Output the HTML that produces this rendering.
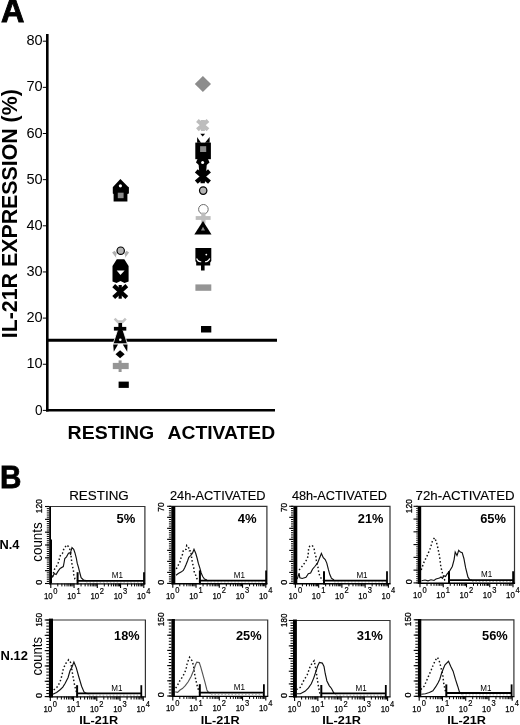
<!DOCTYPE html>
<html><head><meta charset="utf-8"><style>
html,body{margin:0;padding:0;background:#fff;width:520px;height:725px;overflow:hidden}
svg{display:block;will-change:transform}
text{font-family:'Liberation Sans', sans-serif}
</style></head><body>
<svg width="520" height="725" viewBox="0 0 520 725">
<text x="0.9" y="22.3" font-size="32.5" font-weight="bold" text-anchor="start" textLength="23.4" lengthAdjust="spacingAndGlyphs" fill="#000" stroke="#000" stroke-width="0.9">A</text>
<line x1="47.3" y1="34" x2="47.3" y2="411.6" stroke="#000" stroke-width="2.6"/>
<line x1="46" y1="410.3" x2="275" y2="410.3" stroke="#000" stroke-width="2.6"/>
<line x1="42.8" y1="410.40" x2="46.5" y2="410.40" stroke="#000" stroke-width="1"/>
<text x="42.6" y="414.5" font-size="14" text-anchor="end" textLength="7.6" lengthAdjust="spacingAndGlyphs" fill="#000" >0</text>
<line x1="42.8" y1="364.25" x2="46.5" y2="364.25" stroke="#000" stroke-width="1"/>
<text x="42.6" y="368.35" font-size="14" text-anchor="end" textLength="16.2" lengthAdjust="spacingAndGlyphs" fill="#000" >10</text>
<line x1="42.8" y1="318.10" x2="46.5" y2="318.10" stroke="#000" stroke-width="1"/>
<text x="42.6" y="322.2" font-size="14" text-anchor="end" textLength="16.2" lengthAdjust="spacingAndGlyphs" fill="#000" >20</text>
<line x1="42.8" y1="271.95" x2="46.5" y2="271.95" stroke="#000" stroke-width="1"/>
<text x="42.6" y="276.05" font-size="14" text-anchor="end" textLength="16.2" lengthAdjust="spacingAndGlyphs" fill="#000" >30</text>
<line x1="42.8" y1="225.80" x2="46.5" y2="225.80" stroke="#000" stroke-width="1"/>
<text x="42.6" y="229.9" font-size="14" text-anchor="end" textLength="16.2" lengthAdjust="spacingAndGlyphs" fill="#000" >40</text>
<line x1="42.8" y1="179.65" x2="46.5" y2="179.65" stroke="#000" stroke-width="1"/>
<text x="42.6" y="183.75" font-size="14" text-anchor="end" textLength="16.2" lengthAdjust="spacingAndGlyphs" fill="#000" >50</text>
<line x1="42.8" y1="133.50" x2="46.5" y2="133.50" stroke="#000" stroke-width="1"/>
<text x="42.6" y="137.6" font-size="14" text-anchor="end" textLength="16.2" lengthAdjust="spacingAndGlyphs" fill="#000" >60</text>
<line x1="42.8" y1="87.35" x2="46.5" y2="87.35" stroke="#000" stroke-width="1"/>
<text x="42.6" y="91.45" font-size="14" text-anchor="end" textLength="16.2" lengthAdjust="spacingAndGlyphs" fill="#000" >70</text>
<line x1="42.8" y1="41.20" x2="46.5" y2="41.20" stroke="#000" stroke-width="1"/>
<text x="42.6" y="45.3" font-size="14" text-anchor="end" textLength="16.2" lengthAdjust="spacingAndGlyphs" fill="#000" >80</text>
<line x1="46" y1="340.2" x2="277" y2="340.2" stroke="#000" stroke-width="2.9"/>
<text x="67.6" y="438.8" font-size="18.6" font-weight="bold" text-anchor="start" textLength="86.6" lengthAdjust="spacingAndGlyphs" fill="#000" >RESTING</text>
<text x="167.5" y="438.6" font-size="18.6" font-weight="bold" text-anchor="start" textLength="107.6" lengthAdjust="spacingAndGlyphs" fill="#000" >ACTIVATED</text>
<text transform="translate(17.0,338.2) rotate(-90)" font-size="21.8" font-weight="bold" text-anchor="start" textLength="249" lengthAdjust="spacingAndGlyphs" fill="#000" >IL-21R EXPRESSION (%)</text>
<polygon points="120.4,179 127.8,186.4 128.9,187.2 128.9,193.5 127.4,194 127.4,201.6 113.6,201.6 113.6,194 112.8,193.5 112.8,187.2 113.4,186.6" fill="#000"/>
<rect x="117.8" y="192.7" width="5.8" height="5.5" fill="#8a8a8a"/>
<circle cx="120.4" cy="185.8" r="1.6" fill="#fff"/>
<path d="M113.4,251.6 L117.8,257.4 M127.8,251.6 L123.4,257.4" stroke="#b0b0b0" stroke-width="3.2"/>
<circle cx="120.6" cy="256.6" r="4.6" fill="#fff"/>
<polygon points="112.5,266 116.8,259.3 124.3,259.3 128.6,266 128.6,281.5 124.5,283 120.5,281 116.5,283 112.5,281.5" fill="#000"/>
<polygon points="116.7,270.4 124.6,270.4 120.5,275" fill="#fff"/>
<circle cx="120.7" cy="250.7" r="3.7" fill="#b4b4b4" stroke="#000" stroke-width="1.2"/>
<path d="M113.7,285.6 L126.8,297.5 M126.8,285.6 L113.7,297.5" stroke="#000" stroke-width="4.2"/>
<rect x="118.6" y="285" width="3.2" height="13.7" fill="#000"/>
<path d="M114.6,318.6 L118.6,322.6 M125.8,318.6 L121.8,322.6 M116.5,321.6 H124" stroke="#c4c4c4" stroke-width="2.6"/>
<polygon points="117.6,330 123,330 127.4,343.8 113.1,343.8" fill="#000" stroke="#fff" stroke-width="0.8"/>
<rect x="118.4" y="323" width="3.7" height="9" fill="#000"/>
<rect x="113.9" y="326.9" width="12.4" height="3.7" fill="#000"/>
<circle cx="120.3" cy="339.7" r="1.3" fill="#fff"/>
<polygon points="113.2,344.5 118,344.5 113.8,351.8" fill="#000"/>
<polygon points="122.8,344.5 127.5,344.5 127.2,351.8" fill="#000"/>
<polygon points="120.1,350.2 124.7,354.2 120.1,358.3 115.5,354.2" fill="#000"/>
<rect x="112.8" y="362.9" width="15.9" height="6.2" fill="#959595"/>
<rect x="118.6" y="360.4" width="3" height="11.6" fill="#959595"/>
<rect x="118.6" y="381.6" width="10.2" height="6.3" fill="#000"/>
<polygon points="202.9,76 211,84 202.9,92 194.8,84" fill="#8c8c8c"/>
<path d="M197.4,120.5 L208,129.8 M208,120.5 L197.4,129.8" stroke="#bdbdbd" stroke-width="4"/>
<rect x="200.9" y="120" width="4" height="11" fill="#bdbdbd"/>
<polygon points="200.3,133.7 205.1,133.7 202.7,136.4" fill="#000"/>
<polygon points="197.1,137 201,142.8 197.1,142.8" fill="#000"/>
<polygon points="209.6,137 209.6,142.8 205,142.8" fill="#000"/>
<rect x="195.3" y="142.6" width="15.6" height="16.6" fill="#000"/>
<rect x="200.1" y="146.2" width="6.1" height="5.8" fill="#8a8a8a"/>
<polygon points="197.5,159 208,159 209.5,162.5 206,165.5 199.5,165.5 196,162.5" fill="#000"/>
<polygon points="198.6,164 206.8,164 206.2,171.5 204.8,183.2 200.6,183.2 199.2,171.5" fill="#000"/>
<circle cx="202.6" cy="162.6" r="1.5" fill="#fff"/>
<path d="M196.3,170.8 L209.5,182.2 M209.5,170.8 L196.3,182.2" stroke="#000" stroke-width="4.4"/>
<circle cx="203.2" cy="190.6" r="3.7" fill="#b4b4b4" stroke="#000" stroke-width="1.2"/>
<circle cx="203.4" cy="209.3" r="4.8" fill="#fff" stroke="#6a6a6a" stroke-width="1"/>
<rect x="195.7" y="216.1" width="14.9" height="3.8" fill="#bdbdbd"/>
<rect x="201.3" y="212.5" width="4.2" height="11" fill="#bdbdbd"/>
<polygon points="203,220.9 211.5,234.4 194.3,234.4" fill="#000"/>
<polygon points="203,226.8 205,230.5 201,230.5" fill="#8a8a8a"/>
<polygon points="195.4,247.9 211.3,247.9 211.3,261 210.2,262.5 210.2,265.6 204.6,265.6 204.6,270.6 201,270.6 201,265.6 196.2,265.6 196.2,262.5 195.4,261" fill="#000"/>
<path d="M196.6,258.6 Q198.2,262.4 201.2,261.6 M205,261.6 Q208,262.4 209.8,258.6" stroke="#fff" stroke-width="1.2" fill="none"/>
<circle cx="206.3" cy="254.6" r="0.9" fill="#fff"/>
<rect x="195.4" y="284.4" width="15.9" height="6.4" fill="#959595"/>
<rect x="201" y="326" width="10.3" height="6.5" fill="#000"/>
<text x="-0.1" y="487.7" font-size="32.0" font-weight="bold" text-anchor="start" textLength="21.4" lengthAdjust="spacingAndGlyphs" fill="#000" stroke="#000" stroke-width="0.8">B</text>
<text x="69.2" y="500.1" font-size="13.6" text-anchor="start" textLength="59.6" lengthAdjust="spacingAndGlyphs" fill="#000" stroke="#000" stroke-width="0.15">RESTING</text>
<text x="169.9" y="500.1" font-size="13.6" text-anchor="start" textLength="95.7" lengthAdjust="spacingAndGlyphs" fill="#000" stroke="#000" stroke-width="0.15">24h-ACTIVATED</text>
<text x="291.9" y="500.1" font-size="13.6" text-anchor="start" textLength="95.0" lengthAdjust="spacingAndGlyphs" fill="#000" stroke="#000" stroke-width="0.15">48h-ACTIVATED</text>
<text x="415.59999999999997" y="500.1" font-size="13.6" text-anchor="start" textLength="99.0" lengthAdjust="spacingAndGlyphs" fill="#000" stroke="#000" stroke-width="0.15">72h-ACTIVATED</text>
<path d="M49.2,506.5 H144.9 V583.5" fill="none" stroke="#333" stroke-width="1.2"/>
<line x1="46.8" y1="506.50" x2="49.2" y2="506.50" stroke="#000" stroke-width="1"/>
<line x1="46.8" y1="508.64" x2="49.2" y2="508.64" stroke="#000" stroke-width="1"/>
<line x1="46.8" y1="510.78" x2="49.2" y2="510.78" stroke="#000" stroke-width="1"/>
<line x1="46.8" y1="512.92" x2="49.2" y2="512.92" stroke="#000" stroke-width="1"/>
<line x1="46.8" y1="515.06" x2="49.2" y2="515.06" stroke="#000" stroke-width="1"/>
<line x1="46.8" y1="517.19" x2="49.2" y2="517.19" stroke="#000" stroke-width="1"/>
<line x1="46.8" y1="519.33" x2="49.2" y2="519.33" stroke="#000" stroke-width="1"/>
<line x1="46.8" y1="521.47" x2="49.2" y2="521.47" stroke="#000" stroke-width="1"/>
<line x1="46.8" y1="523.61" x2="49.2" y2="523.61" stroke="#000" stroke-width="1"/>
<line x1="46.8" y1="525.75" x2="49.2" y2="525.75" stroke="#000" stroke-width="1"/>
<line x1="46.8" y1="527.89" x2="49.2" y2="527.89" stroke="#000" stroke-width="1"/>
<line x1="46.8" y1="530.03" x2="49.2" y2="530.03" stroke="#000" stroke-width="1"/>
<line x1="46.8" y1="532.17" x2="49.2" y2="532.17" stroke="#000" stroke-width="1"/>
<line x1="46.8" y1="534.31" x2="49.2" y2="534.31" stroke="#000" stroke-width="1"/>
<line x1="46.8" y1="536.44" x2="49.2" y2="536.44" stroke="#000" stroke-width="1"/>
<line x1="46.8" y1="538.58" x2="49.2" y2="538.58" stroke="#000" stroke-width="1"/>
<line x1="46.8" y1="540.72" x2="49.2" y2="540.72" stroke="#000" stroke-width="1"/>
<line x1="46.8" y1="542.86" x2="49.2" y2="542.86" stroke="#000" stroke-width="1"/>
<line x1="46.8" y1="545.00" x2="49.2" y2="545.00" stroke="#000" stroke-width="1"/>
<line x1="46.8" y1="547.14" x2="49.2" y2="547.14" stroke="#000" stroke-width="1"/>
<line x1="46.8" y1="549.28" x2="49.2" y2="549.28" stroke="#000" stroke-width="1"/>
<line x1="46.8" y1="551.42" x2="49.2" y2="551.42" stroke="#000" stroke-width="1"/>
<line x1="46.8" y1="553.56" x2="49.2" y2="553.56" stroke="#000" stroke-width="1"/>
<line x1="46.8" y1="555.69" x2="49.2" y2="555.69" stroke="#000" stroke-width="1"/>
<line x1="46.8" y1="557.83" x2="49.2" y2="557.83" stroke="#000" stroke-width="1"/>
<line x1="46.8" y1="559.97" x2="49.2" y2="559.97" stroke="#000" stroke-width="1"/>
<line x1="46.8" y1="562.11" x2="49.2" y2="562.11" stroke="#000" stroke-width="1"/>
<line x1="46.8" y1="564.25" x2="49.2" y2="564.25" stroke="#000" stroke-width="1"/>
<line x1="46.8" y1="566.39" x2="49.2" y2="566.39" stroke="#000" stroke-width="1"/>
<line x1="46.8" y1="568.53" x2="49.2" y2="568.53" stroke="#000" stroke-width="1"/>
<line x1="46.8" y1="570.67" x2="49.2" y2="570.67" stroke="#000" stroke-width="1"/>
<line x1="46.8" y1="572.81" x2="49.2" y2="572.81" stroke="#000" stroke-width="1"/>
<line x1="46.8" y1="574.94" x2="49.2" y2="574.94" stroke="#000" stroke-width="1"/>
<line x1="46.8" y1="577.08" x2="49.2" y2="577.08" stroke="#000" stroke-width="1"/>
<line x1="46.8" y1="579.22" x2="49.2" y2="579.22" stroke="#000" stroke-width="1"/>
<line x1="46.8" y1="581.36" x2="49.2" y2="581.36" stroke="#000" stroke-width="1"/>
<line x1="46.8" y1="583.50" x2="49.2" y2="583.50" stroke="#000" stroke-width="1"/>
<line x1="45.0" y1="506.50" x2="49.2" y2="506.50" stroke="#000" stroke-width="1.1"/>
<line x1="45.0" y1="519.33" x2="49.2" y2="519.33" stroke="#000" stroke-width="1.1"/>
<line x1="45.0" y1="532.17" x2="49.2" y2="532.17" stroke="#000" stroke-width="1.1"/>
<line x1="45.0" y1="545.00" x2="49.2" y2="545.00" stroke="#000" stroke-width="1.1"/>
<line x1="45.0" y1="557.83" x2="49.2" y2="557.83" stroke="#000" stroke-width="1.1"/>
<line x1="45.0" y1="570.67" x2="49.2" y2="570.67" stroke="#000" stroke-width="1.1"/>
<line x1="45.0" y1="583.50" x2="49.2" y2="583.50" stroke="#000" stroke-width="1.1"/>
<rect x="49.2" y="506.5" width="1.80" height="77.80" fill="#000"/>
<rect x="50.2" y="539.5" width="1.80" height="44.00" fill="#000"/>
<line x1="49.2" y1="583.80" x2="145.5" y2="583.80" stroke="#000" stroke-width="1.35"/>
<line x1="50.80" y1="583.5" x2="50.80" y2="587.90" stroke="#000" stroke-width="1.1"/>
<line x1="57.80" y1="583.5" x2="57.80" y2="586.40" stroke="#000" stroke-width="1.0"/>
<line x1="61.89" y1="583.5" x2="61.89" y2="586.40" stroke="#000" stroke-width="1.0"/>
<line x1="64.80" y1="583.5" x2="64.80" y2="586.40" stroke="#000" stroke-width="1.0"/>
<line x1="67.05" y1="583.5" x2="67.05" y2="586.40" stroke="#000" stroke-width="1.0"/>
<line x1="68.89" y1="583.5" x2="68.89" y2="586.40" stroke="#000" stroke-width="1.0"/>
<line x1="70.45" y1="583.5" x2="70.45" y2="586.40" stroke="#000" stroke-width="1.0"/>
<line x1="71.80" y1="583.5" x2="71.80" y2="586.40" stroke="#000" stroke-width="1.0"/>
<line x1="72.99" y1="583.5" x2="72.99" y2="586.40" stroke="#000" stroke-width="1.0"/>
<text x="43.9" y="598.9" font-size="9.5" text-anchor="start" textLength="8.8" lengthAdjust="spacingAndGlyphs" fill="#000" stroke="#000" stroke-width="0.25">10</text>
<text x="53.3" y="593.5" font-size="8.2" text-anchor="start" textLength="4.2" lengthAdjust="spacingAndGlyphs" fill="#000" stroke="#000" stroke-width="0.2">0</text>
<line x1="74.05" y1="583.5" x2="74.05" y2="587.90" stroke="#000" stroke-width="1.1"/>
<line x1="81.05" y1="583.5" x2="81.05" y2="586.40" stroke="#000" stroke-width="1.0"/>
<line x1="85.14" y1="583.5" x2="85.14" y2="586.40" stroke="#000" stroke-width="1.0"/>
<line x1="88.05" y1="583.5" x2="88.05" y2="586.40" stroke="#000" stroke-width="1.0"/>
<line x1="90.30" y1="583.5" x2="90.30" y2="586.40" stroke="#000" stroke-width="1.0"/>
<line x1="92.14" y1="583.5" x2="92.14" y2="586.40" stroke="#000" stroke-width="1.0"/>
<line x1="93.70" y1="583.5" x2="93.70" y2="586.40" stroke="#000" stroke-width="1.0"/>
<line x1="95.05" y1="583.5" x2="95.05" y2="586.40" stroke="#000" stroke-width="1.0"/>
<line x1="96.24" y1="583.5" x2="96.24" y2="586.40" stroke="#000" stroke-width="1.0"/>
<text x="67.15" y="598.9" font-size="9.5" text-anchor="start" textLength="8.8" lengthAdjust="spacingAndGlyphs" fill="#000" stroke="#000" stroke-width="0.25">10</text>
<text x="76.55" y="593.5" font-size="8.2" text-anchor="start" textLength="4.2" lengthAdjust="spacingAndGlyphs" fill="#000" stroke="#000" stroke-width="0.2">1</text>
<line x1="97.30" y1="583.5" x2="97.30" y2="587.90" stroke="#000" stroke-width="1.1"/>
<line x1="104.30" y1="583.5" x2="104.30" y2="586.40" stroke="#000" stroke-width="1.0"/>
<line x1="108.39" y1="583.5" x2="108.39" y2="586.40" stroke="#000" stroke-width="1.0"/>
<line x1="111.30" y1="583.5" x2="111.30" y2="586.40" stroke="#000" stroke-width="1.0"/>
<line x1="113.55" y1="583.5" x2="113.55" y2="586.40" stroke="#000" stroke-width="1.0"/>
<line x1="115.39" y1="583.5" x2="115.39" y2="586.40" stroke="#000" stroke-width="1.0"/>
<line x1="116.95" y1="583.5" x2="116.95" y2="586.40" stroke="#000" stroke-width="1.0"/>
<line x1="118.30" y1="583.5" x2="118.30" y2="586.40" stroke="#000" stroke-width="1.0"/>
<line x1="119.49" y1="583.5" x2="119.49" y2="586.40" stroke="#000" stroke-width="1.0"/>
<text x="90.4" y="598.9" font-size="9.5" text-anchor="start" textLength="8.8" lengthAdjust="spacingAndGlyphs" fill="#000" stroke="#000" stroke-width="0.25">10</text>
<text x="99.8" y="593.5" font-size="8.2" text-anchor="start" textLength="4.2" lengthAdjust="spacingAndGlyphs" fill="#000" stroke="#000" stroke-width="0.2">2</text>
<line x1="120.55" y1="583.5" x2="120.55" y2="587.90" stroke="#000" stroke-width="1.1"/>
<line x1="127.55" y1="583.5" x2="127.55" y2="586.40" stroke="#000" stroke-width="1.0"/>
<line x1="131.64" y1="583.5" x2="131.64" y2="586.40" stroke="#000" stroke-width="1.0"/>
<line x1="134.55" y1="583.5" x2="134.55" y2="586.40" stroke="#000" stroke-width="1.0"/>
<line x1="136.80" y1="583.5" x2="136.80" y2="586.40" stroke="#000" stroke-width="1.0"/>
<line x1="138.64" y1="583.5" x2="138.64" y2="586.40" stroke="#000" stroke-width="1.0"/>
<line x1="140.20" y1="583.5" x2="140.20" y2="586.40" stroke="#000" stroke-width="1.0"/>
<line x1="141.55" y1="583.5" x2="141.55" y2="586.40" stroke="#000" stroke-width="1.0"/>
<line x1="142.74" y1="583.5" x2="142.74" y2="586.40" stroke="#000" stroke-width="1.0"/>
<text x="113.65" y="598.9" font-size="9.5" text-anchor="start" textLength="8.8" lengthAdjust="spacingAndGlyphs" fill="#000" stroke="#000" stroke-width="0.25">10</text>
<text x="123.05" y="593.5" font-size="8.2" text-anchor="start" textLength="4.2" lengthAdjust="spacingAndGlyphs" fill="#000" stroke="#000" stroke-width="0.2">3</text>
<line x1="143.80" y1="583.5" x2="143.80" y2="587.90" stroke="#000" stroke-width="1.1"/>
<text x="136.9" y="598.9" font-size="9.5" text-anchor="start" textLength="8.8" lengthAdjust="spacingAndGlyphs" fill="#000" stroke="#000" stroke-width="0.25">10</text>
<text x="146.3" y="593.5" font-size="8.2" text-anchor="start" textLength="4.2" lengthAdjust="spacingAndGlyphs" fill="#000" stroke="#000" stroke-width="0.2">4</text>
<line x1="86.0" y1="582.10" x2="143.0" y2="582.10" stroke="#aaa" stroke-width="0.9" stroke-dasharray="1.6,1.8"/>
<polyline points="52.30,577.00 54.60,569.00 57.20,565.20 58.70,561.70 59.60,557.70 60.70,554.50 62.40,553.60 63.60,549.60 65.60,546.40 66.80,544.90 68.50,546.70 70.30,550.40 71.40,558.50 71.70,562.90 72.60,566.60 73.50,571.00 73.70,574.70 75.00,579.00 78.00,581.00" fill="none" stroke="#111" stroke-width="1.45" stroke-dasharray="1.5,2.2"/>
<polyline points="52.30,577.60 54.30,573.60 56.10,574.50 57.80,571.60 60.10,568.40 63.30,566.60 64.20,562.00 64.80,558.50 66.50,556.80 68.50,553.30 70.00,552.70 70.60,555.00 70.80,551.60 72.00,547.50 73.70,549.30 74.90,552.70 76.30,558.00 77.20,563.20 78.40,567.20 80.00,573.50 81.10,577.60 83.50,580.00 86.00,580.60" fill="none" stroke="#111" stroke-width="1.15"/>
<path d="M77.6,572.2 V584.5" stroke="#000" stroke-width="2"/>
<path d="M144.0,572.2 V584.5" stroke="#000" stroke-width="1.8"/>
<line x1="77.6" y1="580.8" x2="144.0" y2="580.8" stroke="#000" stroke-width="1.8"/>
<text x="111.8" y="577.9" font-size="8.9" text-anchor="start" textLength="11.2" lengthAdjust="spacingAndGlyphs" fill="#000" >M1</text>
<text x="116.60000000000001" y="522.5" font-size="12.3" font-weight="bold" text-anchor="start" textLength="18.8" lengthAdjust="spacingAndGlyphs" fill="#000" >5%</text>
<text transform="translate(41.8,506.2) rotate(-90)" font-size="9.8" text-anchor="middle" textLength="14.0" lengthAdjust="spacingAndGlyphs" fill="#000" stroke="#000" stroke-width="0.3">120</text>
<text transform="translate(41.8,582.3) rotate(-90)" font-size="9.8" text-anchor="middle" textLength="5.0" lengthAdjust="spacingAndGlyphs" fill="#000" stroke="#000" stroke-width="0.3">0</text>
<text transform="translate(42.4,561.8) rotate(-90)" font-size="13.8" text-anchor="start" textLength="39.6" lengthAdjust="spacingAndGlyphs" fill="#000" >counts</text>
<path d="M171.3,506.3 H266.9 V583.4" fill="none" stroke="#333" stroke-width="1.2"/>
<line x1="168.9" y1="506.30" x2="171.3" y2="506.30" stroke="#000" stroke-width="1"/>
<line x1="168.9" y1="508.50" x2="171.3" y2="508.50" stroke="#000" stroke-width="1"/>
<line x1="168.9" y1="510.71" x2="171.3" y2="510.71" stroke="#000" stroke-width="1"/>
<line x1="168.9" y1="512.91" x2="171.3" y2="512.91" stroke="#000" stroke-width="1"/>
<line x1="168.9" y1="515.11" x2="171.3" y2="515.11" stroke="#000" stroke-width="1"/>
<line x1="168.9" y1="517.31" x2="171.3" y2="517.31" stroke="#000" stroke-width="1"/>
<line x1="168.9" y1="519.52" x2="171.3" y2="519.52" stroke="#000" stroke-width="1"/>
<line x1="168.9" y1="521.72" x2="171.3" y2="521.72" stroke="#000" stroke-width="1"/>
<line x1="168.9" y1="523.92" x2="171.3" y2="523.92" stroke="#000" stroke-width="1"/>
<line x1="168.9" y1="526.13" x2="171.3" y2="526.13" stroke="#000" stroke-width="1"/>
<line x1="168.9" y1="528.33" x2="171.3" y2="528.33" stroke="#000" stroke-width="1"/>
<line x1="168.9" y1="530.53" x2="171.3" y2="530.53" stroke="#000" stroke-width="1"/>
<line x1="168.9" y1="532.73" x2="171.3" y2="532.73" stroke="#000" stroke-width="1"/>
<line x1="168.9" y1="534.94" x2="171.3" y2="534.94" stroke="#000" stroke-width="1"/>
<line x1="168.9" y1="537.14" x2="171.3" y2="537.14" stroke="#000" stroke-width="1"/>
<line x1="168.9" y1="539.34" x2="171.3" y2="539.34" stroke="#000" stroke-width="1"/>
<line x1="168.9" y1="541.55" x2="171.3" y2="541.55" stroke="#000" stroke-width="1"/>
<line x1="168.9" y1="543.75" x2="171.3" y2="543.75" stroke="#000" stroke-width="1"/>
<line x1="168.9" y1="545.95" x2="171.3" y2="545.95" stroke="#000" stroke-width="1"/>
<line x1="168.9" y1="548.15" x2="171.3" y2="548.15" stroke="#000" stroke-width="1"/>
<line x1="168.9" y1="550.36" x2="171.3" y2="550.36" stroke="#000" stroke-width="1"/>
<line x1="168.9" y1="552.56" x2="171.3" y2="552.56" stroke="#000" stroke-width="1"/>
<line x1="168.9" y1="554.76" x2="171.3" y2="554.76" stroke="#000" stroke-width="1"/>
<line x1="168.9" y1="556.97" x2="171.3" y2="556.97" stroke="#000" stroke-width="1"/>
<line x1="168.9" y1="559.17" x2="171.3" y2="559.17" stroke="#000" stroke-width="1"/>
<line x1="168.9" y1="561.37" x2="171.3" y2="561.37" stroke="#000" stroke-width="1"/>
<line x1="168.9" y1="563.57" x2="171.3" y2="563.57" stroke="#000" stroke-width="1"/>
<line x1="168.9" y1="565.78" x2="171.3" y2="565.78" stroke="#000" stroke-width="1"/>
<line x1="168.9" y1="567.98" x2="171.3" y2="567.98" stroke="#000" stroke-width="1"/>
<line x1="168.9" y1="570.18" x2="171.3" y2="570.18" stroke="#000" stroke-width="1"/>
<line x1="168.9" y1="572.39" x2="171.3" y2="572.39" stroke="#000" stroke-width="1"/>
<line x1="168.9" y1="574.59" x2="171.3" y2="574.59" stroke="#000" stroke-width="1"/>
<line x1="168.9" y1="576.79" x2="171.3" y2="576.79" stroke="#000" stroke-width="1"/>
<line x1="168.9" y1="578.99" x2="171.3" y2="578.99" stroke="#000" stroke-width="1"/>
<line x1="168.9" y1="581.20" x2="171.3" y2="581.20" stroke="#000" stroke-width="1"/>
<line x1="168.9" y1="583.40" x2="171.3" y2="583.40" stroke="#000" stroke-width="1"/>
<line x1="167.1" y1="506.30" x2="171.3" y2="506.30" stroke="#000" stroke-width="1.1"/>
<line x1="167.1" y1="517.31" x2="171.3" y2="517.31" stroke="#000" stroke-width="1.1"/>
<line x1="167.1" y1="528.33" x2="171.3" y2="528.33" stroke="#000" stroke-width="1.1"/>
<line x1="167.1" y1="539.34" x2="171.3" y2="539.34" stroke="#000" stroke-width="1.1"/>
<line x1="167.1" y1="550.36" x2="171.3" y2="550.36" stroke="#000" stroke-width="1.1"/>
<line x1="167.1" y1="561.37" x2="171.3" y2="561.37" stroke="#000" stroke-width="1.1"/>
<line x1="167.1" y1="572.39" x2="171.3" y2="572.39" stroke="#000" stroke-width="1.1"/>
<line x1="167.1" y1="583.40" x2="171.3" y2="583.40" stroke="#000" stroke-width="1.1"/>
<rect x="171.3" y="506.3" width="4.00" height="77.90" fill="#000"/>
<line x1="171.3" y1="583.70" x2="267.5" y2="583.70" stroke="#000" stroke-width="1.35"/>
<line x1="172.80" y1="583.4" x2="172.80" y2="587.80" stroke="#000" stroke-width="1.1"/>
<line x1="179.80" y1="583.4" x2="179.80" y2="586.30" stroke="#000" stroke-width="1.0"/>
<line x1="183.89" y1="583.4" x2="183.89" y2="586.30" stroke="#000" stroke-width="1.0"/>
<line x1="186.80" y1="583.4" x2="186.80" y2="586.30" stroke="#000" stroke-width="1.0"/>
<line x1="189.05" y1="583.4" x2="189.05" y2="586.30" stroke="#000" stroke-width="1.0"/>
<line x1="190.89" y1="583.4" x2="190.89" y2="586.30" stroke="#000" stroke-width="1.0"/>
<line x1="192.45" y1="583.4" x2="192.45" y2="586.30" stroke="#000" stroke-width="1.0"/>
<line x1="193.80" y1="583.4" x2="193.80" y2="586.30" stroke="#000" stroke-width="1.0"/>
<line x1="194.99" y1="583.4" x2="194.99" y2="586.30" stroke="#000" stroke-width="1.0"/>
<text x="165.9" y="598.8" font-size="9.5" text-anchor="start" textLength="8.8" lengthAdjust="spacingAndGlyphs" fill="#000" stroke="#000" stroke-width="0.25">10</text>
<text x="175.3" y="593.4" font-size="8.2" text-anchor="start" textLength="4.2" lengthAdjust="spacingAndGlyphs" fill="#000" stroke="#000" stroke-width="0.2">0</text>
<line x1="196.05" y1="583.4" x2="196.05" y2="587.80" stroke="#000" stroke-width="1.1"/>
<line x1="203.05" y1="583.4" x2="203.05" y2="586.30" stroke="#000" stroke-width="1.0"/>
<line x1="207.14" y1="583.4" x2="207.14" y2="586.30" stroke="#000" stroke-width="1.0"/>
<line x1="210.05" y1="583.4" x2="210.05" y2="586.30" stroke="#000" stroke-width="1.0"/>
<line x1="212.30" y1="583.4" x2="212.30" y2="586.30" stroke="#000" stroke-width="1.0"/>
<line x1="214.14" y1="583.4" x2="214.14" y2="586.30" stroke="#000" stroke-width="1.0"/>
<line x1="215.70" y1="583.4" x2="215.70" y2="586.30" stroke="#000" stroke-width="1.0"/>
<line x1="217.05" y1="583.4" x2="217.05" y2="586.30" stroke="#000" stroke-width="1.0"/>
<line x1="218.24" y1="583.4" x2="218.24" y2="586.30" stroke="#000" stroke-width="1.0"/>
<text x="189.15" y="598.8" font-size="9.5" text-anchor="start" textLength="8.8" lengthAdjust="spacingAndGlyphs" fill="#000" stroke="#000" stroke-width="0.25">10</text>
<text x="198.55" y="593.4" font-size="8.2" text-anchor="start" textLength="4.2" lengthAdjust="spacingAndGlyphs" fill="#000" stroke="#000" stroke-width="0.2">1</text>
<line x1="219.30" y1="583.4" x2="219.30" y2="587.80" stroke="#000" stroke-width="1.1"/>
<line x1="226.30" y1="583.4" x2="226.30" y2="586.30" stroke="#000" stroke-width="1.0"/>
<line x1="230.39" y1="583.4" x2="230.39" y2="586.30" stroke="#000" stroke-width="1.0"/>
<line x1="233.30" y1="583.4" x2="233.30" y2="586.30" stroke="#000" stroke-width="1.0"/>
<line x1="235.55" y1="583.4" x2="235.55" y2="586.30" stroke="#000" stroke-width="1.0"/>
<line x1="237.39" y1="583.4" x2="237.39" y2="586.30" stroke="#000" stroke-width="1.0"/>
<line x1="238.95" y1="583.4" x2="238.95" y2="586.30" stroke="#000" stroke-width="1.0"/>
<line x1="240.30" y1="583.4" x2="240.30" y2="586.30" stroke="#000" stroke-width="1.0"/>
<line x1="241.49" y1="583.4" x2="241.49" y2="586.30" stroke="#000" stroke-width="1.0"/>
<text x="212.4" y="598.8" font-size="9.5" text-anchor="start" textLength="8.8" lengthAdjust="spacingAndGlyphs" fill="#000" stroke="#000" stroke-width="0.25">10</text>
<text x="221.8" y="593.4" font-size="8.2" text-anchor="start" textLength="4.2" lengthAdjust="spacingAndGlyphs" fill="#000" stroke="#000" stroke-width="0.2">2</text>
<line x1="242.55" y1="583.4" x2="242.55" y2="587.80" stroke="#000" stroke-width="1.1"/>
<line x1="249.55" y1="583.4" x2="249.55" y2="586.30" stroke="#000" stroke-width="1.0"/>
<line x1="253.64" y1="583.4" x2="253.64" y2="586.30" stroke="#000" stroke-width="1.0"/>
<line x1="256.55" y1="583.4" x2="256.55" y2="586.30" stroke="#000" stroke-width="1.0"/>
<line x1="258.80" y1="583.4" x2="258.80" y2="586.30" stroke="#000" stroke-width="1.0"/>
<line x1="260.64" y1="583.4" x2="260.64" y2="586.30" stroke="#000" stroke-width="1.0"/>
<line x1="262.20" y1="583.4" x2="262.20" y2="586.30" stroke="#000" stroke-width="1.0"/>
<line x1="263.55" y1="583.4" x2="263.55" y2="586.30" stroke="#000" stroke-width="1.0"/>
<line x1="264.74" y1="583.4" x2="264.74" y2="586.30" stroke="#000" stroke-width="1.0"/>
<text x="235.65" y="598.8" font-size="9.5" text-anchor="start" textLength="8.8" lengthAdjust="spacingAndGlyphs" fill="#000" stroke="#000" stroke-width="0.25">10</text>
<text x="245.05" y="593.4" font-size="8.2" text-anchor="start" textLength="4.2" lengthAdjust="spacingAndGlyphs" fill="#000" stroke="#000" stroke-width="0.2">3</text>
<line x1="265.80" y1="583.4" x2="265.80" y2="587.80" stroke="#000" stroke-width="1.1"/>
<text x="258.9" y="598.8" font-size="9.5" text-anchor="start" textLength="8.8" lengthAdjust="spacingAndGlyphs" fill="#000" stroke="#000" stroke-width="0.25">10</text>
<text x="268.3" y="593.4" font-size="8.2" text-anchor="start" textLength="4.2" lengthAdjust="spacingAndGlyphs" fill="#000" stroke="#000" stroke-width="0.2">4</text>
<line x1="207.0" y1="582.00" x2="265.1" y2="582.00" stroke="#aaa" stroke-width="0.9" stroke-dasharray="1.6,1.8"/>
<polyline points="176.30,569.00 178.00,565.50 179.80,562.60 181.00,558.00 182.70,553.90 183.30,550.10 186.20,549.30 186.70,545.50 188.50,547.00 189.30,550.70 190.80,550.70 191.70,558.50 192.50,563.20 193.70,567.20 194.00,571.30 195.70,575.30 196.60,578.20 198.50,580.50 200.00,581.00" fill="none" stroke="#111" stroke-width="1.45" stroke-dasharray="1.5,2.2"/>
<polyline points="176.00,575.30 178.30,573.60 181.00,572.10 183.30,570.40 184.70,567.80 186.20,564.30 187.60,560.80 188.80,557.40 190.80,555.30 192.50,553.30 194.00,549.30 195.70,553.30 197.20,558.50 198.30,563.20 199.80,567.80 201.20,573.00 202.70,576.50 204.50,579.00 207.00,580.00" fill="none" stroke="#111" stroke-width="1.15"/>
<path d="M199.9,570.4 V584.4" stroke="#000" stroke-width="2"/>
<path d="M266.1,570.4 V584.4" stroke="#000" stroke-width="1.8"/>
<line x1="199.9" y1="580.6999999999999" x2="266.1" y2="580.6999999999999" stroke="#000" stroke-width="1.8"/>
<text x="233.8" y="577.8" font-size="8.9" text-anchor="start" textLength="11.2" lengthAdjust="spacingAndGlyphs" fill="#000" >M1</text>
<text x="237.7" y="522.5" font-size="12.3" font-weight="bold" text-anchor="start" textLength="18.9" lengthAdjust="spacingAndGlyphs" fill="#000" >4%</text>
<text transform="translate(164.1,507.1) rotate(-90)" font-size="9.8" text-anchor="middle" textLength="9.2" lengthAdjust="spacingAndGlyphs" fill="#000" stroke="#000" stroke-width="0.3">70</text>
<text transform="translate(164.1,582.2) rotate(-90)" font-size="9.8" text-anchor="middle" textLength="5.0" lengthAdjust="spacingAndGlyphs" fill="#000" stroke="#000" stroke-width="0.3">0</text>
<path d="M293.4,506.3 H390.0 V583.4" fill="none" stroke="#333" stroke-width="1.2"/>
<line x1="291.0" y1="506.30" x2="293.4" y2="506.30" stroke="#000" stroke-width="1"/>
<line x1="291.0" y1="508.50" x2="293.4" y2="508.50" stroke="#000" stroke-width="1"/>
<line x1="291.0" y1="510.71" x2="293.4" y2="510.71" stroke="#000" stroke-width="1"/>
<line x1="291.0" y1="512.91" x2="293.4" y2="512.91" stroke="#000" stroke-width="1"/>
<line x1="291.0" y1="515.11" x2="293.4" y2="515.11" stroke="#000" stroke-width="1"/>
<line x1="291.0" y1="517.31" x2="293.4" y2="517.31" stroke="#000" stroke-width="1"/>
<line x1="291.0" y1="519.52" x2="293.4" y2="519.52" stroke="#000" stroke-width="1"/>
<line x1="291.0" y1="521.72" x2="293.4" y2="521.72" stroke="#000" stroke-width="1"/>
<line x1="291.0" y1="523.92" x2="293.4" y2="523.92" stroke="#000" stroke-width="1"/>
<line x1="291.0" y1="526.13" x2="293.4" y2="526.13" stroke="#000" stroke-width="1"/>
<line x1="291.0" y1="528.33" x2="293.4" y2="528.33" stroke="#000" stroke-width="1"/>
<line x1="291.0" y1="530.53" x2="293.4" y2="530.53" stroke="#000" stroke-width="1"/>
<line x1="291.0" y1="532.73" x2="293.4" y2="532.73" stroke="#000" stroke-width="1"/>
<line x1="291.0" y1="534.94" x2="293.4" y2="534.94" stroke="#000" stroke-width="1"/>
<line x1="291.0" y1="537.14" x2="293.4" y2="537.14" stroke="#000" stroke-width="1"/>
<line x1="291.0" y1="539.34" x2="293.4" y2="539.34" stroke="#000" stroke-width="1"/>
<line x1="291.0" y1="541.55" x2="293.4" y2="541.55" stroke="#000" stroke-width="1"/>
<line x1="291.0" y1="543.75" x2="293.4" y2="543.75" stroke="#000" stroke-width="1"/>
<line x1="291.0" y1="545.95" x2="293.4" y2="545.95" stroke="#000" stroke-width="1"/>
<line x1="291.0" y1="548.15" x2="293.4" y2="548.15" stroke="#000" stroke-width="1"/>
<line x1="291.0" y1="550.36" x2="293.4" y2="550.36" stroke="#000" stroke-width="1"/>
<line x1="291.0" y1="552.56" x2="293.4" y2="552.56" stroke="#000" stroke-width="1"/>
<line x1="291.0" y1="554.76" x2="293.4" y2="554.76" stroke="#000" stroke-width="1"/>
<line x1="291.0" y1="556.97" x2="293.4" y2="556.97" stroke="#000" stroke-width="1"/>
<line x1="291.0" y1="559.17" x2="293.4" y2="559.17" stroke="#000" stroke-width="1"/>
<line x1="291.0" y1="561.37" x2="293.4" y2="561.37" stroke="#000" stroke-width="1"/>
<line x1="291.0" y1="563.57" x2="293.4" y2="563.57" stroke="#000" stroke-width="1"/>
<line x1="291.0" y1="565.78" x2="293.4" y2="565.78" stroke="#000" stroke-width="1"/>
<line x1="291.0" y1="567.98" x2="293.4" y2="567.98" stroke="#000" stroke-width="1"/>
<line x1="291.0" y1="570.18" x2="293.4" y2="570.18" stroke="#000" stroke-width="1"/>
<line x1="291.0" y1="572.39" x2="293.4" y2="572.39" stroke="#000" stroke-width="1"/>
<line x1="291.0" y1="574.59" x2="293.4" y2="574.59" stroke="#000" stroke-width="1"/>
<line x1="291.0" y1="576.79" x2="293.4" y2="576.79" stroke="#000" stroke-width="1"/>
<line x1="291.0" y1="578.99" x2="293.4" y2="578.99" stroke="#000" stroke-width="1"/>
<line x1="291.0" y1="581.20" x2="293.4" y2="581.20" stroke="#000" stroke-width="1"/>
<line x1="291.0" y1="583.40" x2="293.4" y2="583.40" stroke="#000" stroke-width="1"/>
<line x1="289.2" y1="506.30" x2="293.4" y2="506.30" stroke="#000" stroke-width="1.1"/>
<line x1="289.2" y1="517.31" x2="293.4" y2="517.31" stroke="#000" stroke-width="1.1"/>
<line x1="289.2" y1="528.33" x2="293.4" y2="528.33" stroke="#000" stroke-width="1.1"/>
<line x1="289.2" y1="539.34" x2="293.4" y2="539.34" stroke="#000" stroke-width="1.1"/>
<line x1="289.2" y1="550.36" x2="293.4" y2="550.36" stroke="#000" stroke-width="1.1"/>
<line x1="289.2" y1="561.37" x2="293.4" y2="561.37" stroke="#000" stroke-width="1.1"/>
<line x1="289.2" y1="572.39" x2="293.4" y2="572.39" stroke="#000" stroke-width="1.1"/>
<line x1="289.2" y1="583.40" x2="293.4" y2="583.40" stroke="#000" stroke-width="1.1"/>
<rect x="293.4" y="506.3" width="3.90" height="77.90" fill="#000"/>
<line x1="293.4" y1="583.70" x2="390.6" y2="583.70" stroke="#000" stroke-width="1.35"/>
<line x1="295.40" y1="583.4" x2="295.40" y2="587.80" stroke="#000" stroke-width="1.1"/>
<line x1="302.40" y1="583.4" x2="302.40" y2="586.30" stroke="#000" stroke-width="1.0"/>
<line x1="306.49" y1="583.4" x2="306.49" y2="586.30" stroke="#000" stroke-width="1.0"/>
<line x1="309.40" y1="583.4" x2="309.40" y2="586.30" stroke="#000" stroke-width="1.0"/>
<line x1="311.65" y1="583.4" x2="311.65" y2="586.30" stroke="#000" stroke-width="1.0"/>
<line x1="313.49" y1="583.4" x2="313.49" y2="586.30" stroke="#000" stroke-width="1.0"/>
<line x1="315.05" y1="583.4" x2="315.05" y2="586.30" stroke="#000" stroke-width="1.0"/>
<line x1="316.40" y1="583.4" x2="316.40" y2="586.30" stroke="#000" stroke-width="1.0"/>
<line x1="317.59" y1="583.4" x2="317.59" y2="586.30" stroke="#000" stroke-width="1.0"/>
<text x="288.5" y="598.8" font-size="9.5" text-anchor="start" textLength="8.8" lengthAdjust="spacingAndGlyphs" fill="#000" stroke="#000" stroke-width="0.25">10</text>
<text x="297.9" y="593.4" font-size="8.2" text-anchor="start" textLength="4.2" lengthAdjust="spacingAndGlyphs" fill="#000" stroke="#000" stroke-width="0.2">0</text>
<line x1="318.65" y1="583.4" x2="318.65" y2="587.80" stroke="#000" stroke-width="1.1"/>
<line x1="325.65" y1="583.4" x2="325.65" y2="586.30" stroke="#000" stroke-width="1.0"/>
<line x1="329.74" y1="583.4" x2="329.74" y2="586.30" stroke="#000" stroke-width="1.0"/>
<line x1="332.65" y1="583.4" x2="332.65" y2="586.30" stroke="#000" stroke-width="1.0"/>
<line x1="334.90" y1="583.4" x2="334.90" y2="586.30" stroke="#000" stroke-width="1.0"/>
<line x1="336.74" y1="583.4" x2="336.74" y2="586.30" stroke="#000" stroke-width="1.0"/>
<line x1="338.30" y1="583.4" x2="338.30" y2="586.30" stroke="#000" stroke-width="1.0"/>
<line x1="339.65" y1="583.4" x2="339.65" y2="586.30" stroke="#000" stroke-width="1.0"/>
<line x1="340.84" y1="583.4" x2="340.84" y2="586.30" stroke="#000" stroke-width="1.0"/>
<text x="311.75" y="598.8" font-size="9.5" text-anchor="start" textLength="8.8" lengthAdjust="spacingAndGlyphs" fill="#000" stroke="#000" stroke-width="0.25">10</text>
<text x="321.15" y="593.4" font-size="8.2" text-anchor="start" textLength="4.2" lengthAdjust="spacingAndGlyphs" fill="#000" stroke="#000" stroke-width="0.2">1</text>
<line x1="341.90" y1="583.4" x2="341.90" y2="587.80" stroke="#000" stroke-width="1.1"/>
<line x1="348.90" y1="583.4" x2="348.90" y2="586.30" stroke="#000" stroke-width="1.0"/>
<line x1="352.99" y1="583.4" x2="352.99" y2="586.30" stroke="#000" stroke-width="1.0"/>
<line x1="355.90" y1="583.4" x2="355.90" y2="586.30" stroke="#000" stroke-width="1.0"/>
<line x1="358.15" y1="583.4" x2="358.15" y2="586.30" stroke="#000" stroke-width="1.0"/>
<line x1="359.99" y1="583.4" x2="359.99" y2="586.30" stroke="#000" stroke-width="1.0"/>
<line x1="361.55" y1="583.4" x2="361.55" y2="586.30" stroke="#000" stroke-width="1.0"/>
<line x1="362.90" y1="583.4" x2="362.90" y2="586.30" stroke="#000" stroke-width="1.0"/>
<line x1="364.09" y1="583.4" x2="364.09" y2="586.30" stroke="#000" stroke-width="1.0"/>
<text x="335.0" y="598.8" font-size="9.5" text-anchor="start" textLength="8.8" lengthAdjust="spacingAndGlyphs" fill="#000" stroke="#000" stroke-width="0.25">10</text>
<text x="344.4" y="593.4" font-size="8.2" text-anchor="start" textLength="4.2" lengthAdjust="spacingAndGlyphs" fill="#000" stroke="#000" stroke-width="0.2">2</text>
<line x1="365.15" y1="583.4" x2="365.15" y2="587.80" stroke="#000" stroke-width="1.1"/>
<line x1="372.15" y1="583.4" x2="372.15" y2="586.30" stroke="#000" stroke-width="1.0"/>
<line x1="376.24" y1="583.4" x2="376.24" y2="586.30" stroke="#000" stroke-width="1.0"/>
<line x1="379.15" y1="583.4" x2="379.15" y2="586.30" stroke="#000" stroke-width="1.0"/>
<line x1="381.40" y1="583.4" x2="381.40" y2="586.30" stroke="#000" stroke-width="1.0"/>
<line x1="383.24" y1="583.4" x2="383.24" y2="586.30" stroke="#000" stroke-width="1.0"/>
<line x1="384.80" y1="583.4" x2="384.80" y2="586.30" stroke="#000" stroke-width="1.0"/>
<line x1="386.15" y1="583.4" x2="386.15" y2="586.30" stroke="#000" stroke-width="1.0"/>
<line x1="387.34" y1="583.4" x2="387.34" y2="586.30" stroke="#000" stroke-width="1.0"/>
<text x="358.25" y="598.8" font-size="9.5" text-anchor="start" textLength="8.8" lengthAdjust="spacingAndGlyphs" fill="#000" stroke="#000" stroke-width="0.25">10</text>
<text x="367.65" y="593.4" font-size="8.2" text-anchor="start" textLength="4.2" lengthAdjust="spacingAndGlyphs" fill="#000" stroke="#000" stroke-width="0.2">3</text>
<line x1="388.40" y1="583.4" x2="388.40" y2="587.80" stroke="#000" stroke-width="1.1"/>
<text x="381.5" y="598.8" font-size="9.5" text-anchor="start" textLength="8.8" lengthAdjust="spacingAndGlyphs" fill="#000" stroke="#000" stroke-width="0.25">10</text>
<text x="390.9" y="593.4" font-size="8.2" text-anchor="start" textLength="4.2" lengthAdjust="spacingAndGlyphs" fill="#000" stroke="#000" stroke-width="0.2">4</text>
<line x1="334.0" y1="582.00" x2="386.0" y2="582.00" stroke="#aaa" stroke-width="0.9" stroke-dasharray="1.6,1.8"/>
<polyline points="299.10,570.00 301.40,567.30 304.50,563.10 307.50,558.50 308.30,553.10 308.70,547.70 309.80,546.20 312.20,545.40 314.10,548.50 314.80,553.10 316.00,556.90 316.40,560.80 317.90,566.90 318.70,572.30 319.80,576.20 321.40,578.60 323.00,580.50" fill="none" stroke="#111" stroke-width="1.45" stroke-dasharray="1.5,2.2"/>
<polyline points="297.20,579.20 299.10,573.10 299.80,577.70 302.20,578.50 306.00,577.30 308.30,573.80 310.60,573.10 312.50,569.20 314.80,566.50 317.50,563.10 319.10,559.20 321.40,553.50 323.30,557.70 325.20,559.60 326.80,563.10 328.30,569.20 329.80,574.60 331.40,578.10 334.00,580.00" fill="none" stroke="#111" stroke-width="1.15"/>
<path d="M324.0,571.2 V584.4" stroke="#000" stroke-width="2"/>
<path d="M387.0,571.2 V584.4" stroke="#000" stroke-width="1.8"/>
<line x1="324.0" y1="580.6999999999999" x2="387.0" y2="580.6999999999999" stroke="#000" stroke-width="1.8"/>
<text x="356.4" y="577.8" font-size="8.9" text-anchor="start" textLength="11.2" lengthAdjust="spacingAndGlyphs" fill="#000" >M1</text>
<text x="357.8" y="522.5" font-size="12.3" font-weight="bold" text-anchor="start" textLength="25.6" lengthAdjust="spacingAndGlyphs" fill="#000" >21%</text>
<text transform="translate(286.8,507.4) rotate(-90)" font-size="9.8" text-anchor="middle" textLength="9.2" lengthAdjust="spacingAndGlyphs" fill="#000" stroke="#000" stroke-width="0.3">70</text>
<text transform="translate(286.8,582.2) rotate(-90)" font-size="9.8" text-anchor="middle" textLength="5.0" lengthAdjust="spacingAndGlyphs" fill="#000" stroke="#000" stroke-width="0.3">0</text>
<path d="M417.7,506.3 H514.5 V582.9" fill="none" stroke="#333" stroke-width="1.2"/>
<line x1="416.3" y1="506.30" x2="417.7" y2="506.30" stroke="#000" stroke-width="1"/>
<line x1="416.3" y1="508.43" x2="417.7" y2="508.43" stroke="#000" stroke-width="1"/>
<line x1="416.3" y1="510.56" x2="417.7" y2="510.56" stroke="#000" stroke-width="1"/>
<line x1="416.3" y1="512.68" x2="417.7" y2="512.68" stroke="#000" stroke-width="1"/>
<line x1="416.3" y1="514.81" x2="417.7" y2="514.81" stroke="#000" stroke-width="1"/>
<line x1="416.3" y1="516.94" x2="417.7" y2="516.94" stroke="#000" stroke-width="1"/>
<line x1="416.3" y1="519.07" x2="417.7" y2="519.07" stroke="#000" stroke-width="1"/>
<line x1="416.3" y1="521.19" x2="417.7" y2="521.19" stroke="#000" stroke-width="1"/>
<line x1="416.3" y1="523.32" x2="417.7" y2="523.32" stroke="#000" stroke-width="1"/>
<line x1="416.3" y1="525.45" x2="417.7" y2="525.45" stroke="#000" stroke-width="1"/>
<line x1="416.3" y1="527.58" x2="417.7" y2="527.58" stroke="#000" stroke-width="1"/>
<line x1="416.3" y1="529.71" x2="417.7" y2="529.71" stroke="#000" stroke-width="1"/>
<line x1="416.3" y1="531.83" x2="417.7" y2="531.83" stroke="#000" stroke-width="1"/>
<line x1="416.3" y1="533.96" x2="417.7" y2="533.96" stroke="#000" stroke-width="1"/>
<line x1="416.3" y1="536.09" x2="417.7" y2="536.09" stroke="#000" stroke-width="1"/>
<line x1="416.3" y1="538.22" x2="417.7" y2="538.22" stroke="#000" stroke-width="1"/>
<line x1="416.3" y1="540.34" x2="417.7" y2="540.34" stroke="#000" stroke-width="1"/>
<line x1="416.3" y1="542.47" x2="417.7" y2="542.47" stroke="#000" stroke-width="1"/>
<line x1="416.3" y1="544.60" x2="417.7" y2="544.60" stroke="#000" stroke-width="1"/>
<line x1="416.3" y1="546.73" x2="417.7" y2="546.73" stroke="#000" stroke-width="1"/>
<line x1="416.3" y1="548.86" x2="417.7" y2="548.86" stroke="#000" stroke-width="1"/>
<line x1="416.3" y1="550.98" x2="417.7" y2="550.98" stroke="#000" stroke-width="1"/>
<line x1="416.3" y1="553.11" x2="417.7" y2="553.11" stroke="#000" stroke-width="1"/>
<line x1="416.3" y1="555.24" x2="417.7" y2="555.24" stroke="#000" stroke-width="1"/>
<line x1="416.3" y1="557.37" x2="417.7" y2="557.37" stroke="#000" stroke-width="1"/>
<line x1="416.3" y1="559.49" x2="417.7" y2="559.49" stroke="#000" stroke-width="1"/>
<line x1="416.3" y1="561.62" x2="417.7" y2="561.62" stroke="#000" stroke-width="1"/>
<line x1="416.3" y1="563.75" x2="417.7" y2="563.75" stroke="#000" stroke-width="1"/>
<line x1="416.3" y1="565.88" x2="417.7" y2="565.88" stroke="#000" stroke-width="1"/>
<line x1="416.3" y1="568.01" x2="417.7" y2="568.01" stroke="#000" stroke-width="1"/>
<line x1="416.3" y1="570.13" x2="417.7" y2="570.13" stroke="#000" stroke-width="1"/>
<line x1="416.3" y1="572.26" x2="417.7" y2="572.26" stroke="#000" stroke-width="1"/>
<line x1="416.3" y1="574.39" x2="417.7" y2="574.39" stroke="#000" stroke-width="1"/>
<line x1="416.3" y1="576.52" x2="417.7" y2="576.52" stroke="#000" stroke-width="1"/>
<line x1="416.3" y1="578.64" x2="417.7" y2="578.64" stroke="#000" stroke-width="1"/>
<line x1="416.3" y1="580.77" x2="417.7" y2="580.77" stroke="#000" stroke-width="1"/>
<line x1="416.3" y1="582.90" x2="417.7" y2="582.90" stroke="#000" stroke-width="1"/>
<line x1="413.5" y1="506.30" x2="417.7" y2="506.30" stroke="#000" stroke-width="1.1"/>
<line x1="413.5" y1="519.07" x2="417.7" y2="519.07" stroke="#000" stroke-width="1.1"/>
<line x1="413.5" y1="531.83" x2="417.7" y2="531.83" stroke="#000" stroke-width="1.1"/>
<line x1="413.5" y1="544.60" x2="417.7" y2="544.60" stroke="#000" stroke-width="1.1"/>
<line x1="413.5" y1="557.37" x2="417.7" y2="557.37" stroke="#000" stroke-width="1.1"/>
<line x1="413.5" y1="570.13" x2="417.7" y2="570.13" stroke="#000" stroke-width="1.1"/>
<line x1="413.5" y1="582.90" x2="417.7" y2="582.90" stroke="#000" stroke-width="1.1"/>
<rect x="417.7" y="506.3" width="3.50" height="77.40" fill="#000"/>
<line x1="417.7" y1="583.20" x2="515.1" y2="583.20" stroke="#000" stroke-width="1.35"/>
<line x1="420.00" y1="582.9" x2="420.00" y2="587.30" stroke="#000" stroke-width="1.1"/>
<line x1="427.00" y1="582.9" x2="427.00" y2="585.80" stroke="#000" stroke-width="1.0"/>
<line x1="431.09" y1="582.9" x2="431.09" y2="585.80" stroke="#000" stroke-width="1.0"/>
<line x1="434.00" y1="582.9" x2="434.00" y2="585.80" stroke="#000" stroke-width="1.0"/>
<line x1="436.25" y1="582.9" x2="436.25" y2="585.80" stroke="#000" stroke-width="1.0"/>
<line x1="438.09" y1="582.9" x2="438.09" y2="585.80" stroke="#000" stroke-width="1.0"/>
<line x1="439.65" y1="582.9" x2="439.65" y2="585.80" stroke="#000" stroke-width="1.0"/>
<line x1="441.00" y1="582.9" x2="441.00" y2="585.80" stroke="#000" stroke-width="1.0"/>
<line x1="442.19" y1="582.9" x2="442.19" y2="585.80" stroke="#000" stroke-width="1.0"/>
<text x="413.1" y="598.3" font-size="9.5" text-anchor="start" textLength="8.8" lengthAdjust="spacingAndGlyphs" fill="#000" stroke="#000" stroke-width="0.25">10</text>
<text x="422.5" y="592.9" font-size="8.2" text-anchor="start" textLength="4.2" lengthAdjust="spacingAndGlyphs" fill="#000" stroke="#000" stroke-width="0.2">0</text>
<line x1="443.25" y1="582.9" x2="443.25" y2="587.30" stroke="#000" stroke-width="1.1"/>
<line x1="450.25" y1="582.9" x2="450.25" y2="585.80" stroke="#000" stroke-width="1.0"/>
<line x1="454.34" y1="582.9" x2="454.34" y2="585.80" stroke="#000" stroke-width="1.0"/>
<line x1="457.25" y1="582.9" x2="457.25" y2="585.80" stroke="#000" stroke-width="1.0"/>
<line x1="459.50" y1="582.9" x2="459.50" y2="585.80" stroke="#000" stroke-width="1.0"/>
<line x1="461.34" y1="582.9" x2="461.34" y2="585.80" stroke="#000" stroke-width="1.0"/>
<line x1="462.90" y1="582.9" x2="462.90" y2="585.80" stroke="#000" stroke-width="1.0"/>
<line x1="464.25" y1="582.9" x2="464.25" y2="585.80" stroke="#000" stroke-width="1.0"/>
<line x1="465.44" y1="582.9" x2="465.44" y2="585.80" stroke="#000" stroke-width="1.0"/>
<text x="436.35" y="598.3" font-size="9.5" text-anchor="start" textLength="8.8" lengthAdjust="spacingAndGlyphs" fill="#000" stroke="#000" stroke-width="0.25">10</text>
<text x="445.75" y="592.9" font-size="8.2" text-anchor="start" textLength="4.2" lengthAdjust="spacingAndGlyphs" fill="#000" stroke="#000" stroke-width="0.2">1</text>
<line x1="466.50" y1="582.9" x2="466.50" y2="587.30" stroke="#000" stroke-width="1.1"/>
<line x1="473.50" y1="582.9" x2="473.50" y2="585.80" stroke="#000" stroke-width="1.0"/>
<line x1="477.59" y1="582.9" x2="477.59" y2="585.80" stroke="#000" stroke-width="1.0"/>
<line x1="480.50" y1="582.9" x2="480.50" y2="585.80" stroke="#000" stroke-width="1.0"/>
<line x1="482.75" y1="582.9" x2="482.75" y2="585.80" stroke="#000" stroke-width="1.0"/>
<line x1="484.59" y1="582.9" x2="484.59" y2="585.80" stroke="#000" stroke-width="1.0"/>
<line x1="486.15" y1="582.9" x2="486.15" y2="585.80" stroke="#000" stroke-width="1.0"/>
<line x1="487.50" y1="582.9" x2="487.50" y2="585.80" stroke="#000" stroke-width="1.0"/>
<line x1="488.69" y1="582.9" x2="488.69" y2="585.80" stroke="#000" stroke-width="1.0"/>
<text x="459.6" y="598.3" font-size="9.5" text-anchor="start" textLength="8.8" lengthAdjust="spacingAndGlyphs" fill="#000" stroke="#000" stroke-width="0.25">10</text>
<text x="469.0" y="592.9" font-size="8.2" text-anchor="start" textLength="4.2" lengthAdjust="spacingAndGlyphs" fill="#000" stroke="#000" stroke-width="0.2">2</text>
<line x1="489.75" y1="582.9" x2="489.75" y2="587.30" stroke="#000" stroke-width="1.1"/>
<line x1="496.75" y1="582.9" x2="496.75" y2="585.80" stroke="#000" stroke-width="1.0"/>
<line x1="500.84" y1="582.9" x2="500.84" y2="585.80" stroke="#000" stroke-width="1.0"/>
<line x1="503.75" y1="582.9" x2="503.75" y2="585.80" stroke="#000" stroke-width="1.0"/>
<line x1="506.00" y1="582.9" x2="506.00" y2="585.80" stroke="#000" stroke-width="1.0"/>
<line x1="507.84" y1="582.9" x2="507.84" y2="585.80" stroke="#000" stroke-width="1.0"/>
<line x1="509.40" y1="582.9" x2="509.40" y2="585.80" stroke="#000" stroke-width="1.0"/>
<line x1="510.75" y1="582.9" x2="510.75" y2="585.80" stroke="#000" stroke-width="1.0"/>
<line x1="511.94" y1="582.9" x2="511.94" y2="585.80" stroke="#000" stroke-width="1.0"/>
<text x="482.85" y="598.3" font-size="9.5" text-anchor="start" textLength="8.8" lengthAdjust="spacingAndGlyphs" fill="#000" stroke="#000" stroke-width="0.25">10</text>
<text x="492.25" y="592.9" font-size="8.2" text-anchor="start" textLength="4.2" lengthAdjust="spacingAndGlyphs" fill="#000" stroke="#000" stroke-width="0.2">3</text>
<line x1="513.00" y1="582.9" x2="513.00" y2="587.30" stroke="#000" stroke-width="1.1"/>
<text x="506.1" y="598.3" font-size="9.5" text-anchor="start" textLength="8.8" lengthAdjust="spacingAndGlyphs" fill="#000" stroke="#000" stroke-width="0.25">10</text>
<text x="515.5" y="592.9" font-size="8.2" text-anchor="start" textLength="4.2" lengthAdjust="spacingAndGlyphs" fill="#000" stroke="#000" stroke-width="0.2">4</text>
<line x1="472.0" y1="581.50" x2="512.1" y2="581.50" stroke="#aaa" stroke-width="0.9" stroke-dasharray="1.6,1.8"/>
<polyline points="421.20,570.00 424.10,561.90 427.50,555.00 430.40,548.10 432.20,541.70 434.50,537.70 436.20,541.20 437.90,548.10 439.70,557.30 440.80,566.50 442.50,573.50 444.80,580.40 447.00,581.00" fill="none" stroke="#111" stroke-width="1.45" stroke-dasharray="1.5,2.2"/>
<polyline points="421.50,580.80 425.00,580.00 428.00,580.80 431.00,579.80 434.00,580.50 436.00,579.00 439.50,578.00 441.00,577.00 442.50,578.30 444.00,575.80 445.50,576.50 447.00,574.20 449.50,571.20 452.30,566.50 454.10,559.60 455.20,552.10 457.00,555.60 458.70,550.40 460.40,552.10 462.20,552.70 463.90,558.50 465.60,567.70 467.90,576.90 469.70,579.80 472.00,580.20" fill="none" stroke="#111" stroke-width="1.15"/>
<path d="M449.0,571.2 V583.9" stroke="#000" stroke-width="2"/>
<path d="M513.1,571.2 V583.9" stroke="#000" stroke-width="1.8"/>
<line x1="449.0" y1="580.1999999999999" x2="513.1" y2="580.1999999999999" stroke="#000" stroke-width="1.8"/>
<text x="481.0" y="577.3" font-size="8.9" text-anchor="start" textLength="11.2" lengthAdjust="spacingAndGlyphs" fill="#000" >M1</text>
<text x="480.2" y="522.5" font-size="12.3" font-weight="bold" text-anchor="start" textLength="25.8" lengthAdjust="spacingAndGlyphs" fill="#000" >65%</text>
<text transform="translate(411.5,506.2) rotate(-90)" font-size="9.8" text-anchor="middle" textLength="14.0" lengthAdjust="spacingAndGlyphs" fill="#000" stroke="#000" stroke-width="0.3">120</text>
<text transform="translate(411.5,581.7) rotate(-90)" font-size="9.8" text-anchor="middle" textLength="5.0" lengthAdjust="spacingAndGlyphs" fill="#000" stroke="#000" stroke-width="0.3">0</text>
<path d="M48.9,620.0 H145.4 V696.6" fill="none" stroke="#333" stroke-width="1.2"/>
<line x1="46.3" y1="620.00" x2="48.9" y2="620.00" stroke="#000" stroke-width="1"/>
<line x1="46.3" y1="623.06" x2="48.9" y2="623.06" stroke="#000" stroke-width="1"/>
<line x1="46.3" y1="626.13" x2="48.9" y2="626.13" stroke="#000" stroke-width="1"/>
<line x1="46.3" y1="629.19" x2="48.9" y2="629.19" stroke="#000" stroke-width="1"/>
<line x1="46.3" y1="632.26" x2="48.9" y2="632.26" stroke="#000" stroke-width="1"/>
<line x1="46.3" y1="635.32" x2="48.9" y2="635.32" stroke="#000" stroke-width="1"/>
<line x1="46.3" y1="638.38" x2="48.9" y2="638.38" stroke="#000" stroke-width="1"/>
<line x1="46.3" y1="641.45" x2="48.9" y2="641.45" stroke="#000" stroke-width="1"/>
<line x1="46.3" y1="644.51" x2="48.9" y2="644.51" stroke="#000" stroke-width="1"/>
<line x1="46.3" y1="647.58" x2="48.9" y2="647.58" stroke="#000" stroke-width="1"/>
<line x1="46.3" y1="650.64" x2="48.9" y2="650.64" stroke="#000" stroke-width="1"/>
<line x1="46.3" y1="653.70" x2="48.9" y2="653.70" stroke="#000" stroke-width="1"/>
<line x1="46.3" y1="656.77" x2="48.9" y2="656.77" stroke="#000" stroke-width="1"/>
<line x1="46.3" y1="659.83" x2="48.9" y2="659.83" stroke="#000" stroke-width="1"/>
<line x1="46.3" y1="662.90" x2="48.9" y2="662.90" stroke="#000" stroke-width="1"/>
<line x1="46.3" y1="665.96" x2="48.9" y2="665.96" stroke="#000" stroke-width="1"/>
<line x1="46.3" y1="669.02" x2="48.9" y2="669.02" stroke="#000" stroke-width="1"/>
<line x1="46.3" y1="672.09" x2="48.9" y2="672.09" stroke="#000" stroke-width="1"/>
<line x1="46.3" y1="675.15" x2="48.9" y2="675.15" stroke="#000" stroke-width="1"/>
<line x1="46.3" y1="678.22" x2="48.9" y2="678.22" stroke="#000" stroke-width="1"/>
<line x1="46.3" y1="681.28" x2="48.9" y2="681.28" stroke="#000" stroke-width="1"/>
<line x1="46.3" y1="684.34" x2="48.9" y2="684.34" stroke="#000" stroke-width="1"/>
<line x1="46.3" y1="687.41" x2="48.9" y2="687.41" stroke="#000" stroke-width="1"/>
<line x1="46.3" y1="690.47" x2="48.9" y2="690.47" stroke="#000" stroke-width="1"/>
<line x1="46.3" y1="693.54" x2="48.9" y2="693.54" stroke="#000" stroke-width="1"/>
<line x1="46.3" y1="696.60" x2="48.9" y2="696.60" stroke="#000" stroke-width="1"/>
<line x1="44.7" y1="620.00" x2="48.9" y2="620.00" stroke="#000" stroke-width="1.1"/>
<line x1="44.7" y1="635.32" x2="48.9" y2="635.32" stroke="#000" stroke-width="1.1"/>
<line x1="44.7" y1="650.64" x2="48.9" y2="650.64" stroke="#000" stroke-width="1.1"/>
<line x1="44.7" y1="665.96" x2="48.9" y2="665.96" stroke="#000" stroke-width="1.1"/>
<line x1="44.7" y1="681.28" x2="48.9" y2="681.28" stroke="#000" stroke-width="1.1"/>
<line x1="44.7" y1="696.60" x2="48.9" y2="696.60" stroke="#000" stroke-width="1.1"/>
<rect x="48.9" y="618.6" width="4.10" height="78.80" fill="#000"/>
<line x1="48.9" y1="696.90" x2="146.0" y2="696.90" stroke="#000" stroke-width="1.35"/>
<line x1="50.30" y1="696.6" x2="50.30" y2="701.00" stroke="#000" stroke-width="1.1"/>
<line x1="57.30" y1="696.6" x2="57.30" y2="699.50" stroke="#000" stroke-width="1.0"/>
<line x1="61.39" y1="696.6" x2="61.39" y2="699.50" stroke="#000" stroke-width="1.0"/>
<line x1="64.30" y1="696.6" x2="64.30" y2="699.50" stroke="#000" stroke-width="1.0"/>
<line x1="66.55" y1="696.6" x2="66.55" y2="699.50" stroke="#000" stroke-width="1.0"/>
<line x1="68.39" y1="696.6" x2="68.39" y2="699.50" stroke="#000" stroke-width="1.0"/>
<line x1="69.95" y1="696.6" x2="69.95" y2="699.50" stroke="#000" stroke-width="1.0"/>
<line x1="71.30" y1="696.6" x2="71.30" y2="699.50" stroke="#000" stroke-width="1.0"/>
<line x1="72.49" y1="696.6" x2="72.49" y2="699.50" stroke="#000" stroke-width="1.0"/>
<text x="43.4" y="712.0" font-size="9.5" text-anchor="start" textLength="8.8" lengthAdjust="spacingAndGlyphs" fill="#000" stroke="#000" stroke-width="0.25">10</text>
<text x="52.8" y="706.6" font-size="8.2" text-anchor="start" textLength="4.2" lengthAdjust="spacingAndGlyphs" fill="#000" stroke="#000" stroke-width="0.2">0</text>
<line x1="73.55" y1="696.6" x2="73.55" y2="701.00" stroke="#000" stroke-width="1.1"/>
<line x1="80.55" y1="696.6" x2="80.55" y2="699.50" stroke="#000" stroke-width="1.0"/>
<line x1="84.64" y1="696.6" x2="84.64" y2="699.50" stroke="#000" stroke-width="1.0"/>
<line x1="87.55" y1="696.6" x2="87.55" y2="699.50" stroke="#000" stroke-width="1.0"/>
<line x1="89.80" y1="696.6" x2="89.80" y2="699.50" stroke="#000" stroke-width="1.0"/>
<line x1="91.64" y1="696.6" x2="91.64" y2="699.50" stroke="#000" stroke-width="1.0"/>
<line x1="93.20" y1="696.6" x2="93.20" y2="699.50" stroke="#000" stroke-width="1.0"/>
<line x1="94.55" y1="696.6" x2="94.55" y2="699.50" stroke="#000" stroke-width="1.0"/>
<line x1="95.74" y1="696.6" x2="95.74" y2="699.50" stroke="#000" stroke-width="1.0"/>
<text x="66.65" y="712.0" font-size="9.5" text-anchor="start" textLength="8.8" lengthAdjust="spacingAndGlyphs" fill="#000" stroke="#000" stroke-width="0.25">10</text>
<text x="76.05" y="706.6" font-size="8.2" text-anchor="start" textLength="4.2" lengthAdjust="spacingAndGlyphs" fill="#000" stroke="#000" stroke-width="0.2">1</text>
<line x1="96.80" y1="696.6" x2="96.80" y2="701.00" stroke="#000" stroke-width="1.1"/>
<line x1="103.80" y1="696.6" x2="103.80" y2="699.50" stroke="#000" stroke-width="1.0"/>
<line x1="107.89" y1="696.6" x2="107.89" y2="699.50" stroke="#000" stroke-width="1.0"/>
<line x1="110.80" y1="696.6" x2="110.80" y2="699.50" stroke="#000" stroke-width="1.0"/>
<line x1="113.05" y1="696.6" x2="113.05" y2="699.50" stroke="#000" stroke-width="1.0"/>
<line x1="114.89" y1="696.6" x2="114.89" y2="699.50" stroke="#000" stroke-width="1.0"/>
<line x1="116.45" y1="696.6" x2="116.45" y2="699.50" stroke="#000" stroke-width="1.0"/>
<line x1="117.80" y1="696.6" x2="117.80" y2="699.50" stroke="#000" stroke-width="1.0"/>
<line x1="118.99" y1="696.6" x2="118.99" y2="699.50" stroke="#000" stroke-width="1.0"/>
<text x="89.9" y="712.0" font-size="9.5" text-anchor="start" textLength="8.8" lengthAdjust="spacingAndGlyphs" fill="#000" stroke="#000" stroke-width="0.25">10</text>
<text x="99.3" y="706.6" font-size="8.2" text-anchor="start" textLength="4.2" lengthAdjust="spacingAndGlyphs" fill="#000" stroke="#000" stroke-width="0.2">2</text>
<line x1="120.05" y1="696.6" x2="120.05" y2="701.00" stroke="#000" stroke-width="1.1"/>
<line x1="127.05" y1="696.6" x2="127.05" y2="699.50" stroke="#000" stroke-width="1.0"/>
<line x1="131.14" y1="696.6" x2="131.14" y2="699.50" stroke="#000" stroke-width="1.0"/>
<line x1="134.05" y1="696.6" x2="134.05" y2="699.50" stroke="#000" stroke-width="1.0"/>
<line x1="136.30" y1="696.6" x2="136.30" y2="699.50" stroke="#000" stroke-width="1.0"/>
<line x1="138.14" y1="696.6" x2="138.14" y2="699.50" stroke="#000" stroke-width="1.0"/>
<line x1="139.70" y1="696.6" x2="139.70" y2="699.50" stroke="#000" stroke-width="1.0"/>
<line x1="141.05" y1="696.6" x2="141.05" y2="699.50" stroke="#000" stroke-width="1.0"/>
<line x1="142.24" y1="696.6" x2="142.24" y2="699.50" stroke="#000" stroke-width="1.0"/>
<text x="113.15" y="712.0" font-size="9.5" text-anchor="start" textLength="8.8" lengthAdjust="spacingAndGlyphs" fill="#000" stroke="#000" stroke-width="0.25">10</text>
<text x="122.55" y="706.6" font-size="8.2" text-anchor="start" textLength="4.2" lengthAdjust="spacingAndGlyphs" fill="#000" stroke="#000" stroke-width="0.2">3</text>
<line x1="143.30" y1="696.6" x2="143.30" y2="701.00" stroke="#000" stroke-width="1.1"/>
<text x="136.4" y="712.0" font-size="9.5" text-anchor="start" textLength="8.8" lengthAdjust="spacingAndGlyphs" fill="#000" stroke="#000" stroke-width="0.25">10</text>
<text x="145.8" y="706.6" font-size="8.2" text-anchor="start" textLength="4.2" lengthAdjust="spacingAndGlyphs" fill="#000" stroke="#000" stroke-width="0.2">4</text>
<line x1="89.0" y1="695.20" x2="140.3" y2="695.20" stroke="#aaa" stroke-width="0.9" stroke-dasharray="1.6,1.8"/>
<polyline points="53.70,690.00 57.10,687.10 59.90,682.30 61.90,675.60 63.30,668.80 65.70,663.60 68.60,659.70 71.00,663.10 72.00,670.80 73.40,678.50 74.80,686.20 75.80,690.00 77.00,693.50" fill="none" stroke="#111" stroke-width="1.45" stroke-dasharray="1.5,2.2"/>
<polyline points="52.70,694.30 56.60,692.40 60.40,689.50 62.80,687.10 65.20,683.30 68.10,677.50 70.00,670.80 72.00,666.90 73.90,662.10 76.30,667.90 78.70,676.50 81.60,686.20 84.00,691.90 86.40,693.40 89.00,693.80" fill="none" stroke="#111" stroke-width="1.15"/>
<path d="M77.1,685.2 V697.6" stroke="#000" stroke-width="2"/>
<path d="M141.3,685.2 V697.6" stroke="#000" stroke-width="1.8"/>
<line x1="77.1" y1="693.3000000000001" x2="141.3" y2="693.3000000000001" stroke="#000" stroke-width="1.8"/>
<text x="111.3" y="691.0" font-size="8.9" text-anchor="start" textLength="11.2" lengthAdjust="spacingAndGlyphs" fill="#000" >M1</text>
<text x="114.10000000000001" y="639.5" font-size="12.3" font-weight="bold" text-anchor="start" textLength="25.5" lengthAdjust="spacingAndGlyphs" fill="#000" >18%</text>
<text transform="translate(41.9,619.9) rotate(-90)" font-size="9.8" text-anchor="middle" textLength="13.8" lengthAdjust="spacingAndGlyphs" fill="#000" stroke="#000" stroke-width="0.3">150</text>
<text transform="translate(41.9,695.4) rotate(-90)" font-size="9.8" text-anchor="middle" textLength="5.0" lengthAdjust="spacingAndGlyphs" fill="#000" stroke="#000" stroke-width="0.3">0</text>
<text transform="translate(42.4,675.4) rotate(-90)" font-size="13.8" text-anchor="start" textLength="38.4" lengthAdjust="spacingAndGlyphs" fill="#000" >counts</text>
<text x="79.3" y="724.1" font-size="11.7" font-weight="bold" text-anchor="start" textLength="38.8" lengthAdjust="spacingAndGlyphs" fill="#000" >IL-21R</text>
<path d="M171.4,620.0 H267.7 V696.0" fill="none" stroke="#333" stroke-width="1.2"/>
<line x1="168.8" y1="620.00" x2="171.4" y2="620.00" stroke="#000" stroke-width="1"/>
<line x1="168.8" y1="623.04" x2="171.4" y2="623.04" stroke="#000" stroke-width="1"/>
<line x1="168.8" y1="626.08" x2="171.4" y2="626.08" stroke="#000" stroke-width="1"/>
<line x1="168.8" y1="629.12" x2="171.4" y2="629.12" stroke="#000" stroke-width="1"/>
<line x1="168.8" y1="632.16" x2="171.4" y2="632.16" stroke="#000" stroke-width="1"/>
<line x1="168.8" y1="635.20" x2="171.4" y2="635.20" stroke="#000" stroke-width="1"/>
<line x1="168.8" y1="638.24" x2="171.4" y2="638.24" stroke="#000" stroke-width="1"/>
<line x1="168.8" y1="641.28" x2="171.4" y2="641.28" stroke="#000" stroke-width="1"/>
<line x1="168.8" y1="644.32" x2="171.4" y2="644.32" stroke="#000" stroke-width="1"/>
<line x1="168.8" y1="647.36" x2="171.4" y2="647.36" stroke="#000" stroke-width="1"/>
<line x1="168.8" y1="650.40" x2="171.4" y2="650.40" stroke="#000" stroke-width="1"/>
<line x1="168.8" y1="653.44" x2="171.4" y2="653.44" stroke="#000" stroke-width="1"/>
<line x1="168.8" y1="656.48" x2="171.4" y2="656.48" stroke="#000" stroke-width="1"/>
<line x1="168.8" y1="659.52" x2="171.4" y2="659.52" stroke="#000" stroke-width="1"/>
<line x1="168.8" y1="662.56" x2="171.4" y2="662.56" stroke="#000" stroke-width="1"/>
<line x1="168.8" y1="665.60" x2="171.4" y2="665.60" stroke="#000" stroke-width="1"/>
<line x1="168.8" y1="668.64" x2="171.4" y2="668.64" stroke="#000" stroke-width="1"/>
<line x1="168.8" y1="671.68" x2="171.4" y2="671.68" stroke="#000" stroke-width="1"/>
<line x1="168.8" y1="674.72" x2="171.4" y2="674.72" stroke="#000" stroke-width="1"/>
<line x1="168.8" y1="677.76" x2="171.4" y2="677.76" stroke="#000" stroke-width="1"/>
<line x1="168.8" y1="680.80" x2="171.4" y2="680.80" stroke="#000" stroke-width="1"/>
<line x1="168.8" y1="683.84" x2="171.4" y2="683.84" stroke="#000" stroke-width="1"/>
<line x1="168.8" y1="686.88" x2="171.4" y2="686.88" stroke="#000" stroke-width="1"/>
<line x1="168.8" y1="689.92" x2="171.4" y2="689.92" stroke="#000" stroke-width="1"/>
<line x1="168.8" y1="692.96" x2="171.4" y2="692.96" stroke="#000" stroke-width="1"/>
<line x1="168.8" y1="696.00" x2="171.4" y2="696.00" stroke="#000" stroke-width="1"/>
<line x1="167.2" y1="620.00" x2="171.4" y2="620.00" stroke="#000" stroke-width="1.1"/>
<line x1="167.2" y1="635.20" x2="171.4" y2="635.20" stroke="#000" stroke-width="1.1"/>
<line x1="167.2" y1="650.40" x2="171.4" y2="650.40" stroke="#000" stroke-width="1.1"/>
<line x1="167.2" y1="665.60" x2="171.4" y2="665.60" stroke="#000" stroke-width="1.1"/>
<line x1="167.2" y1="680.80" x2="171.4" y2="680.80" stroke="#000" stroke-width="1.1"/>
<line x1="167.2" y1="696.00" x2="171.4" y2="696.00" stroke="#000" stroke-width="1.1"/>
<rect x="171.4" y="619.0" width="3.50" height="77.80" fill="#000"/>
<line x1="171.4" y1="696.30" x2="268.3" y2="696.30" stroke="#000" stroke-width="1.35"/>
<line x1="172.80" y1="696.0" x2="172.80" y2="700.40" stroke="#000" stroke-width="1.1"/>
<line x1="179.80" y1="696.0" x2="179.80" y2="698.90" stroke="#000" stroke-width="1.0"/>
<line x1="183.89" y1="696.0" x2="183.89" y2="698.90" stroke="#000" stroke-width="1.0"/>
<line x1="186.80" y1="696.0" x2="186.80" y2="698.90" stroke="#000" stroke-width="1.0"/>
<line x1="189.05" y1="696.0" x2="189.05" y2="698.90" stroke="#000" stroke-width="1.0"/>
<line x1="190.89" y1="696.0" x2="190.89" y2="698.90" stroke="#000" stroke-width="1.0"/>
<line x1="192.45" y1="696.0" x2="192.45" y2="698.90" stroke="#000" stroke-width="1.0"/>
<line x1="193.80" y1="696.0" x2="193.80" y2="698.90" stroke="#000" stroke-width="1.0"/>
<line x1="194.99" y1="696.0" x2="194.99" y2="698.90" stroke="#000" stroke-width="1.0"/>
<text x="165.9" y="711.4" font-size="9.5" text-anchor="start" textLength="8.8" lengthAdjust="spacingAndGlyphs" fill="#000" stroke="#000" stroke-width="0.25">10</text>
<text x="175.3" y="706.0" font-size="8.2" text-anchor="start" textLength="4.2" lengthAdjust="spacingAndGlyphs" fill="#000" stroke="#000" stroke-width="0.2">0</text>
<line x1="196.05" y1="696.0" x2="196.05" y2="700.40" stroke="#000" stroke-width="1.1"/>
<line x1="203.05" y1="696.0" x2="203.05" y2="698.90" stroke="#000" stroke-width="1.0"/>
<line x1="207.14" y1="696.0" x2="207.14" y2="698.90" stroke="#000" stroke-width="1.0"/>
<line x1="210.05" y1="696.0" x2="210.05" y2="698.90" stroke="#000" stroke-width="1.0"/>
<line x1="212.30" y1="696.0" x2="212.30" y2="698.90" stroke="#000" stroke-width="1.0"/>
<line x1="214.14" y1="696.0" x2="214.14" y2="698.90" stroke="#000" stroke-width="1.0"/>
<line x1="215.70" y1="696.0" x2="215.70" y2="698.90" stroke="#000" stroke-width="1.0"/>
<line x1="217.05" y1="696.0" x2="217.05" y2="698.90" stroke="#000" stroke-width="1.0"/>
<line x1="218.24" y1="696.0" x2="218.24" y2="698.90" stroke="#000" stroke-width="1.0"/>
<text x="189.15" y="711.4" font-size="9.5" text-anchor="start" textLength="8.8" lengthAdjust="spacingAndGlyphs" fill="#000" stroke="#000" stroke-width="0.25">10</text>
<text x="198.55" y="706.0" font-size="8.2" text-anchor="start" textLength="4.2" lengthAdjust="spacingAndGlyphs" fill="#000" stroke="#000" stroke-width="0.2">1</text>
<line x1="219.30" y1="696.0" x2="219.30" y2="700.40" stroke="#000" stroke-width="1.1"/>
<line x1="226.30" y1="696.0" x2="226.30" y2="698.90" stroke="#000" stroke-width="1.0"/>
<line x1="230.39" y1="696.0" x2="230.39" y2="698.90" stroke="#000" stroke-width="1.0"/>
<line x1="233.30" y1="696.0" x2="233.30" y2="698.90" stroke="#000" stroke-width="1.0"/>
<line x1="235.55" y1="696.0" x2="235.55" y2="698.90" stroke="#000" stroke-width="1.0"/>
<line x1="237.39" y1="696.0" x2="237.39" y2="698.90" stroke="#000" stroke-width="1.0"/>
<line x1="238.95" y1="696.0" x2="238.95" y2="698.90" stroke="#000" stroke-width="1.0"/>
<line x1="240.30" y1="696.0" x2="240.30" y2="698.90" stroke="#000" stroke-width="1.0"/>
<line x1="241.49" y1="696.0" x2="241.49" y2="698.90" stroke="#000" stroke-width="1.0"/>
<text x="212.4" y="711.4" font-size="9.5" text-anchor="start" textLength="8.8" lengthAdjust="spacingAndGlyphs" fill="#000" stroke="#000" stroke-width="0.25">10</text>
<text x="221.8" y="706.0" font-size="8.2" text-anchor="start" textLength="4.2" lengthAdjust="spacingAndGlyphs" fill="#000" stroke="#000" stroke-width="0.2">2</text>
<line x1="242.55" y1="696.0" x2="242.55" y2="700.40" stroke="#000" stroke-width="1.1"/>
<line x1="249.55" y1="696.0" x2="249.55" y2="698.90" stroke="#000" stroke-width="1.0"/>
<line x1="253.64" y1="696.0" x2="253.64" y2="698.90" stroke="#000" stroke-width="1.0"/>
<line x1="256.55" y1="696.0" x2="256.55" y2="698.90" stroke="#000" stroke-width="1.0"/>
<line x1="258.80" y1="696.0" x2="258.80" y2="698.90" stroke="#000" stroke-width="1.0"/>
<line x1="260.64" y1="696.0" x2="260.64" y2="698.90" stroke="#000" stroke-width="1.0"/>
<line x1="262.20" y1="696.0" x2="262.20" y2="698.90" stroke="#000" stroke-width="1.0"/>
<line x1="263.55" y1="696.0" x2="263.55" y2="698.90" stroke="#000" stroke-width="1.0"/>
<line x1="264.74" y1="696.0" x2="264.74" y2="698.90" stroke="#000" stroke-width="1.0"/>
<text x="235.65" y="711.4" font-size="9.5" text-anchor="start" textLength="8.8" lengthAdjust="spacingAndGlyphs" fill="#000" stroke="#000" stroke-width="0.25">10</text>
<text x="245.05" y="706.0" font-size="8.2" text-anchor="start" textLength="4.2" lengthAdjust="spacingAndGlyphs" fill="#000" stroke="#000" stroke-width="0.2">3</text>
<line x1="265.80" y1="696.0" x2="265.80" y2="700.40" stroke="#000" stroke-width="1.1"/>
<text x="258.9" y="711.4" font-size="9.5" text-anchor="start" textLength="8.8" lengthAdjust="spacingAndGlyphs" fill="#000" stroke="#000" stroke-width="0.25">10</text>
<text x="268.3" y="706.0" font-size="8.2" text-anchor="start" textLength="4.2" lengthAdjust="spacingAndGlyphs" fill="#000" stroke="#000" stroke-width="0.2">4</text>
<line x1="211.0" y1="694.60" x2="262.9" y2="694.60" stroke="#aaa" stroke-width="0.9" stroke-dasharray="1.6,1.8"/>
<polyline points="175.70,688.10 178.10,684.20 180.00,680.40 182.40,677.00 184.80,672.70 186.30,667.90 187.20,663.10 189.60,657.30 192.00,660.70 193.50,665.50 194.40,672.70 195.90,680.40 197.30,686.20 198.80,691.00 200.00,693.00" fill="none" stroke="#111" stroke-width="1.45" stroke-dasharray="1.5,2.2"/>
<polyline points="175.20,691.90 177.60,692.40 180.00,690.00 182.40,688.60 185.30,685.70 188.20,681.80 191.10,676.50 193.50,670.80 195.40,665.00 196.80,662.10 199.25,662.60 200.70,666.90 202.60,673.70 205.00,682.30 206.90,690.00 208.40,692.40 211.00,693.00" fill="none" stroke="#555" stroke-width="1.15"/>
<path d="M199.8,684.2 V697.0" stroke="#000" stroke-width="2"/>
<path d="M263.9,684.2 V697.0" stroke="#000" stroke-width="1.8"/>
<line x1="199.8" y1="692.7" x2="263.9" y2="692.7" stroke="#000" stroke-width="1.8"/>
<text x="233.8" y="690.4" font-size="8.9" text-anchor="start" textLength="11.2" lengthAdjust="spacingAndGlyphs" fill="#000" >M1</text>
<text x="236.0" y="639.5" font-size="12.3" font-weight="bold" text-anchor="start" textLength="25.6" lengthAdjust="spacingAndGlyphs" fill="#000" >25%</text>
<text transform="translate(164.0,619.4) rotate(-90)" font-size="9.8" text-anchor="middle" textLength="13.8" lengthAdjust="spacingAndGlyphs" fill="#000" stroke="#000" stroke-width="0.3">150</text>
<text transform="translate(164.0,694.8) rotate(-90)" font-size="9.8" text-anchor="middle" textLength="5.0" lengthAdjust="spacingAndGlyphs" fill="#000" stroke="#000" stroke-width="0.3">0</text>
<text x="200.8" y="724.1" font-size="11.7" font-weight="bold" text-anchor="start" textLength="38.8" lengthAdjust="spacingAndGlyphs" fill="#000" >IL-21R</text>
<path d="M293.0,620.5 H390.0 V696.6" fill="none" stroke="#333" stroke-width="1.2"/>
<line x1="290.5" y1="620.50" x2="293.0" y2="620.50" stroke="#000" stroke-width="1"/>
<line x1="290.5" y1="623.04" x2="293.0" y2="623.04" stroke="#000" stroke-width="1"/>
<line x1="290.5" y1="625.57" x2="293.0" y2="625.57" stroke="#000" stroke-width="1"/>
<line x1="290.5" y1="628.11" x2="293.0" y2="628.11" stroke="#000" stroke-width="1"/>
<line x1="290.5" y1="630.65" x2="293.0" y2="630.65" stroke="#000" stroke-width="1"/>
<line x1="290.5" y1="633.18" x2="293.0" y2="633.18" stroke="#000" stroke-width="1"/>
<line x1="290.5" y1="635.72" x2="293.0" y2="635.72" stroke="#000" stroke-width="1"/>
<line x1="290.5" y1="638.26" x2="293.0" y2="638.26" stroke="#000" stroke-width="1"/>
<line x1="290.5" y1="640.79" x2="293.0" y2="640.79" stroke="#000" stroke-width="1"/>
<line x1="290.5" y1="643.33" x2="293.0" y2="643.33" stroke="#000" stroke-width="1"/>
<line x1="290.5" y1="645.87" x2="293.0" y2="645.87" stroke="#000" stroke-width="1"/>
<line x1="290.5" y1="648.40" x2="293.0" y2="648.40" stroke="#000" stroke-width="1"/>
<line x1="290.5" y1="650.94" x2="293.0" y2="650.94" stroke="#000" stroke-width="1"/>
<line x1="290.5" y1="653.48" x2="293.0" y2="653.48" stroke="#000" stroke-width="1"/>
<line x1="290.5" y1="656.01" x2="293.0" y2="656.01" stroke="#000" stroke-width="1"/>
<line x1="290.5" y1="658.55" x2="293.0" y2="658.55" stroke="#000" stroke-width="1"/>
<line x1="290.5" y1="661.09" x2="293.0" y2="661.09" stroke="#000" stroke-width="1"/>
<line x1="290.5" y1="663.62" x2="293.0" y2="663.62" stroke="#000" stroke-width="1"/>
<line x1="290.5" y1="666.16" x2="293.0" y2="666.16" stroke="#000" stroke-width="1"/>
<line x1="290.5" y1="668.70" x2="293.0" y2="668.70" stroke="#000" stroke-width="1"/>
<line x1="290.5" y1="671.23" x2="293.0" y2="671.23" stroke="#000" stroke-width="1"/>
<line x1="290.5" y1="673.77" x2="293.0" y2="673.77" stroke="#000" stroke-width="1"/>
<line x1="290.5" y1="676.31" x2="293.0" y2="676.31" stroke="#000" stroke-width="1"/>
<line x1="290.5" y1="678.84" x2="293.0" y2="678.84" stroke="#000" stroke-width="1"/>
<line x1="290.5" y1="681.38" x2="293.0" y2="681.38" stroke="#000" stroke-width="1"/>
<line x1="290.5" y1="683.92" x2="293.0" y2="683.92" stroke="#000" stroke-width="1"/>
<line x1="290.5" y1="686.45" x2="293.0" y2="686.45" stroke="#000" stroke-width="1"/>
<line x1="290.5" y1="688.99" x2="293.0" y2="688.99" stroke="#000" stroke-width="1"/>
<line x1="290.5" y1="691.53" x2="293.0" y2="691.53" stroke="#000" stroke-width="1"/>
<line x1="290.5" y1="694.06" x2="293.0" y2="694.06" stroke="#000" stroke-width="1"/>
<line x1="290.5" y1="696.60" x2="293.0" y2="696.60" stroke="#000" stroke-width="1"/>
<line x1="288.8" y1="620.50" x2="293.0" y2="620.50" stroke="#000" stroke-width="1.1"/>
<line x1="288.8" y1="633.18" x2="293.0" y2="633.18" stroke="#000" stroke-width="1.1"/>
<line x1="288.8" y1="645.87" x2="293.0" y2="645.87" stroke="#000" stroke-width="1.1"/>
<line x1="288.8" y1="658.55" x2="293.0" y2="658.55" stroke="#000" stroke-width="1.1"/>
<line x1="288.8" y1="671.23" x2="293.0" y2="671.23" stroke="#000" stroke-width="1.1"/>
<line x1="288.8" y1="683.92" x2="293.0" y2="683.92" stroke="#000" stroke-width="1.1"/>
<line x1="288.8" y1="696.60" x2="293.0" y2="696.60" stroke="#000" stroke-width="1.1"/>
<rect x="293.0" y="619.5" width="3.90" height="77.90" fill="#000"/>
<line x1="293.0" y1="696.90" x2="390.6" y2="696.90" stroke="#000" stroke-width="1.35"/>
<line x1="294.60" y1="696.6" x2="294.60" y2="701.00" stroke="#000" stroke-width="1.1"/>
<line x1="301.60" y1="696.6" x2="301.60" y2="699.50" stroke="#000" stroke-width="1.0"/>
<line x1="305.69" y1="696.6" x2="305.69" y2="699.50" stroke="#000" stroke-width="1.0"/>
<line x1="308.60" y1="696.6" x2="308.60" y2="699.50" stroke="#000" stroke-width="1.0"/>
<line x1="310.85" y1="696.6" x2="310.85" y2="699.50" stroke="#000" stroke-width="1.0"/>
<line x1="312.69" y1="696.6" x2="312.69" y2="699.50" stroke="#000" stroke-width="1.0"/>
<line x1="314.25" y1="696.6" x2="314.25" y2="699.50" stroke="#000" stroke-width="1.0"/>
<line x1="315.60" y1="696.6" x2="315.60" y2="699.50" stroke="#000" stroke-width="1.0"/>
<line x1="316.79" y1="696.6" x2="316.79" y2="699.50" stroke="#000" stroke-width="1.0"/>
<text x="287.7" y="712.0" font-size="9.5" text-anchor="start" textLength="8.8" lengthAdjust="spacingAndGlyphs" fill="#000" stroke="#000" stroke-width="0.25">10</text>
<text x="297.1" y="706.6" font-size="8.2" text-anchor="start" textLength="4.2" lengthAdjust="spacingAndGlyphs" fill="#000" stroke="#000" stroke-width="0.2">0</text>
<line x1="317.85" y1="696.6" x2="317.85" y2="701.00" stroke="#000" stroke-width="1.1"/>
<line x1="324.85" y1="696.6" x2="324.85" y2="699.50" stroke="#000" stroke-width="1.0"/>
<line x1="328.94" y1="696.6" x2="328.94" y2="699.50" stroke="#000" stroke-width="1.0"/>
<line x1="331.85" y1="696.6" x2="331.85" y2="699.50" stroke="#000" stroke-width="1.0"/>
<line x1="334.10" y1="696.6" x2="334.10" y2="699.50" stroke="#000" stroke-width="1.0"/>
<line x1="335.94" y1="696.6" x2="335.94" y2="699.50" stroke="#000" stroke-width="1.0"/>
<line x1="337.50" y1="696.6" x2="337.50" y2="699.50" stroke="#000" stroke-width="1.0"/>
<line x1="338.85" y1="696.6" x2="338.85" y2="699.50" stroke="#000" stroke-width="1.0"/>
<line x1="340.04" y1="696.6" x2="340.04" y2="699.50" stroke="#000" stroke-width="1.0"/>
<text x="310.95" y="712.0" font-size="9.5" text-anchor="start" textLength="8.8" lengthAdjust="spacingAndGlyphs" fill="#000" stroke="#000" stroke-width="0.25">10</text>
<text x="320.35" y="706.6" font-size="8.2" text-anchor="start" textLength="4.2" lengthAdjust="spacingAndGlyphs" fill="#000" stroke="#000" stroke-width="0.2">1</text>
<line x1="341.10" y1="696.6" x2="341.10" y2="701.00" stroke="#000" stroke-width="1.1"/>
<line x1="348.10" y1="696.6" x2="348.10" y2="699.50" stroke="#000" stroke-width="1.0"/>
<line x1="352.19" y1="696.6" x2="352.19" y2="699.50" stroke="#000" stroke-width="1.0"/>
<line x1="355.10" y1="696.6" x2="355.10" y2="699.50" stroke="#000" stroke-width="1.0"/>
<line x1="357.35" y1="696.6" x2="357.35" y2="699.50" stroke="#000" stroke-width="1.0"/>
<line x1="359.19" y1="696.6" x2="359.19" y2="699.50" stroke="#000" stroke-width="1.0"/>
<line x1="360.75" y1="696.6" x2="360.75" y2="699.50" stroke="#000" stroke-width="1.0"/>
<line x1="362.10" y1="696.6" x2="362.10" y2="699.50" stroke="#000" stroke-width="1.0"/>
<line x1="363.29" y1="696.6" x2="363.29" y2="699.50" stroke="#000" stroke-width="1.0"/>
<text x="334.2" y="712.0" font-size="9.5" text-anchor="start" textLength="8.8" lengthAdjust="spacingAndGlyphs" fill="#000" stroke="#000" stroke-width="0.25">10</text>
<text x="343.6" y="706.6" font-size="8.2" text-anchor="start" textLength="4.2" lengthAdjust="spacingAndGlyphs" fill="#000" stroke="#000" stroke-width="0.2">2</text>
<line x1="364.35" y1="696.6" x2="364.35" y2="701.00" stroke="#000" stroke-width="1.1"/>
<line x1="371.35" y1="696.6" x2="371.35" y2="699.50" stroke="#000" stroke-width="1.0"/>
<line x1="375.44" y1="696.6" x2="375.44" y2="699.50" stroke="#000" stroke-width="1.0"/>
<line x1="378.35" y1="696.6" x2="378.35" y2="699.50" stroke="#000" stroke-width="1.0"/>
<line x1="380.60" y1="696.6" x2="380.60" y2="699.50" stroke="#000" stroke-width="1.0"/>
<line x1="382.44" y1="696.6" x2="382.44" y2="699.50" stroke="#000" stroke-width="1.0"/>
<line x1="384.00" y1="696.6" x2="384.00" y2="699.50" stroke="#000" stroke-width="1.0"/>
<line x1="385.35" y1="696.6" x2="385.35" y2="699.50" stroke="#000" stroke-width="1.0"/>
<line x1="386.54" y1="696.6" x2="386.54" y2="699.50" stroke="#000" stroke-width="1.0"/>
<text x="357.45" y="712.0" font-size="9.5" text-anchor="start" textLength="8.8" lengthAdjust="spacingAndGlyphs" fill="#000" stroke="#000" stroke-width="0.25">10</text>
<text x="366.85" y="706.6" font-size="8.2" text-anchor="start" textLength="4.2" lengthAdjust="spacingAndGlyphs" fill="#000" stroke="#000" stroke-width="0.2">3</text>
<line x1="387.60" y1="696.6" x2="387.60" y2="701.00" stroke="#000" stroke-width="1.1"/>
<text x="380.7" y="712.0" font-size="9.5" text-anchor="start" textLength="8.8" lengthAdjust="spacingAndGlyphs" fill="#000" stroke="#000" stroke-width="0.25">10</text>
<text x="390.1" y="706.6" font-size="8.2" text-anchor="start" textLength="4.2" lengthAdjust="spacingAndGlyphs" fill="#000" stroke="#000" stroke-width="0.2">4</text>
<line x1="336.0" y1="695.20" x2="384.8" y2="695.20" stroke="#aaa" stroke-width="0.9" stroke-dasharray="1.6,1.8"/>
<polyline points="296.30,689.60 300.40,687.30 303.80,680.40 307.30,674.60 310.20,666.50 312.50,662.50 314.20,660.80 316.00,670.00 317.10,678.10 318.80,688.50 320.00,694.20 321.00,694.50" fill="none" stroke="#111" stroke-width="1.45" stroke-dasharray="1.5,2.2"/>
<polyline points="296.30,693.70 300.40,693.70 305.00,691.30 308.50,687.90 311.30,683.80 313.70,678.10 316.00,671.20 317.70,666.00 319.40,662.50 322.30,663.10 324.00,666.50 325.20,673.50 326.90,681.00 329.20,685.60 331.50,688.50 333.80,693.10 336.00,694.00" fill="none" stroke="#111" stroke-width="1.15"/>
<path d="M321.3,685.0 V697.6" stroke="#000" stroke-width="2"/>
<path d="M385.8,685.0 V697.6" stroke="#000" stroke-width="1.8"/>
<line x1="321.3" y1="693.3000000000001" x2="385.8" y2="693.3000000000001" stroke="#000" stroke-width="1.8"/>
<text x="355.6" y="691.0" font-size="8.9" text-anchor="start" textLength="11.2" lengthAdjust="spacingAndGlyphs" fill="#000" >M1</text>
<text x="356.7" y="639.5" font-size="12.3" font-weight="bold" text-anchor="start" textLength="26.1" lengthAdjust="spacingAndGlyphs" fill="#000" >31%</text>
<text transform="translate(286.8,620.3) rotate(-90)" font-size="9.8" text-anchor="middle" textLength="13.2" lengthAdjust="spacingAndGlyphs" fill="#000" stroke="#000" stroke-width="0.3">180</text>
<text transform="translate(286.8,695.4) rotate(-90)" font-size="9.8" text-anchor="middle" textLength="5.0" lengthAdjust="spacingAndGlyphs" fill="#000" stroke="#000" stroke-width="0.3">0</text>
<text x="322.2" y="724.1" font-size="11.7" font-weight="bold" text-anchor="start" textLength="38.8" lengthAdjust="spacingAndGlyphs" fill="#000" >IL-21R</text>
<path d="M417.9,619.8 H513.9 V696.3" fill="none" stroke="#333" stroke-width="1.2"/>
<line x1="415.3" y1="619.80" x2="417.9" y2="619.80" stroke="#000" stroke-width="1"/>
<line x1="415.3" y1="622.86" x2="417.9" y2="622.86" stroke="#000" stroke-width="1"/>
<line x1="415.3" y1="625.92" x2="417.9" y2="625.92" stroke="#000" stroke-width="1"/>
<line x1="415.3" y1="628.98" x2="417.9" y2="628.98" stroke="#000" stroke-width="1"/>
<line x1="415.3" y1="632.04" x2="417.9" y2="632.04" stroke="#000" stroke-width="1"/>
<line x1="415.3" y1="635.10" x2="417.9" y2="635.10" stroke="#000" stroke-width="1"/>
<line x1="415.3" y1="638.16" x2="417.9" y2="638.16" stroke="#000" stroke-width="1"/>
<line x1="415.3" y1="641.22" x2="417.9" y2="641.22" stroke="#000" stroke-width="1"/>
<line x1="415.3" y1="644.28" x2="417.9" y2="644.28" stroke="#000" stroke-width="1"/>
<line x1="415.3" y1="647.34" x2="417.9" y2="647.34" stroke="#000" stroke-width="1"/>
<line x1="415.3" y1="650.40" x2="417.9" y2="650.40" stroke="#000" stroke-width="1"/>
<line x1="415.3" y1="653.46" x2="417.9" y2="653.46" stroke="#000" stroke-width="1"/>
<line x1="415.3" y1="656.52" x2="417.9" y2="656.52" stroke="#000" stroke-width="1"/>
<line x1="415.3" y1="659.58" x2="417.9" y2="659.58" stroke="#000" stroke-width="1"/>
<line x1="415.3" y1="662.64" x2="417.9" y2="662.64" stroke="#000" stroke-width="1"/>
<line x1="415.3" y1="665.70" x2="417.9" y2="665.70" stroke="#000" stroke-width="1"/>
<line x1="415.3" y1="668.76" x2="417.9" y2="668.76" stroke="#000" stroke-width="1"/>
<line x1="415.3" y1="671.82" x2="417.9" y2="671.82" stroke="#000" stroke-width="1"/>
<line x1="415.3" y1="674.88" x2="417.9" y2="674.88" stroke="#000" stroke-width="1"/>
<line x1="415.3" y1="677.94" x2="417.9" y2="677.94" stroke="#000" stroke-width="1"/>
<line x1="415.3" y1="681.00" x2="417.9" y2="681.00" stroke="#000" stroke-width="1"/>
<line x1="415.3" y1="684.06" x2="417.9" y2="684.06" stroke="#000" stroke-width="1"/>
<line x1="415.3" y1="687.12" x2="417.9" y2="687.12" stroke="#000" stroke-width="1"/>
<line x1="415.3" y1="690.18" x2="417.9" y2="690.18" stroke="#000" stroke-width="1"/>
<line x1="415.3" y1="693.24" x2="417.9" y2="693.24" stroke="#000" stroke-width="1"/>
<line x1="415.3" y1="696.30" x2="417.9" y2="696.30" stroke="#000" stroke-width="1"/>
<line x1="413.7" y1="619.80" x2="417.9" y2="619.80" stroke="#000" stroke-width="1.1"/>
<line x1="413.7" y1="635.10" x2="417.9" y2="635.10" stroke="#000" stroke-width="1.1"/>
<line x1="413.7" y1="650.40" x2="417.9" y2="650.40" stroke="#000" stroke-width="1.1"/>
<line x1="413.7" y1="665.70" x2="417.9" y2="665.70" stroke="#000" stroke-width="1.1"/>
<line x1="413.7" y1="681.00" x2="417.9" y2="681.00" stroke="#000" stroke-width="1.1"/>
<line x1="413.7" y1="696.30" x2="417.9" y2="696.30" stroke="#000" stroke-width="1.1"/>
<rect x="417.9" y="619.0" width="3.40" height="78.10" fill="#000"/>
<line x1="417.9" y1="696.60" x2="514.5" y2="696.60" stroke="#000" stroke-width="1.35"/>
<line x1="419.20" y1="696.3" x2="419.20" y2="700.70" stroke="#000" stroke-width="1.1"/>
<line x1="426.20" y1="696.3" x2="426.20" y2="699.20" stroke="#000" stroke-width="1.0"/>
<line x1="430.29" y1="696.3" x2="430.29" y2="699.20" stroke="#000" stroke-width="1.0"/>
<line x1="433.20" y1="696.3" x2="433.20" y2="699.20" stroke="#000" stroke-width="1.0"/>
<line x1="435.45" y1="696.3" x2="435.45" y2="699.20" stroke="#000" stroke-width="1.0"/>
<line x1="437.29" y1="696.3" x2="437.29" y2="699.20" stroke="#000" stroke-width="1.0"/>
<line x1="438.85" y1="696.3" x2="438.85" y2="699.20" stroke="#000" stroke-width="1.0"/>
<line x1="440.20" y1="696.3" x2="440.20" y2="699.20" stroke="#000" stroke-width="1.0"/>
<line x1="441.39" y1="696.3" x2="441.39" y2="699.20" stroke="#000" stroke-width="1.0"/>
<text x="412.3" y="711.7" font-size="9.5" text-anchor="start" textLength="8.8" lengthAdjust="spacingAndGlyphs" fill="#000" stroke="#000" stroke-width="0.25">10</text>
<text x="421.7" y="706.3" font-size="8.2" text-anchor="start" textLength="4.2" lengthAdjust="spacingAndGlyphs" fill="#000" stroke="#000" stroke-width="0.2">0</text>
<line x1="442.45" y1="696.3" x2="442.45" y2="700.70" stroke="#000" stroke-width="1.1"/>
<line x1="449.45" y1="696.3" x2="449.45" y2="699.20" stroke="#000" stroke-width="1.0"/>
<line x1="453.54" y1="696.3" x2="453.54" y2="699.20" stroke="#000" stroke-width="1.0"/>
<line x1="456.45" y1="696.3" x2="456.45" y2="699.20" stroke="#000" stroke-width="1.0"/>
<line x1="458.70" y1="696.3" x2="458.70" y2="699.20" stroke="#000" stroke-width="1.0"/>
<line x1="460.54" y1="696.3" x2="460.54" y2="699.20" stroke="#000" stroke-width="1.0"/>
<line x1="462.10" y1="696.3" x2="462.10" y2="699.20" stroke="#000" stroke-width="1.0"/>
<line x1="463.45" y1="696.3" x2="463.45" y2="699.20" stroke="#000" stroke-width="1.0"/>
<line x1="464.64" y1="696.3" x2="464.64" y2="699.20" stroke="#000" stroke-width="1.0"/>
<text x="435.55" y="711.7" font-size="9.5" text-anchor="start" textLength="8.8" lengthAdjust="spacingAndGlyphs" fill="#000" stroke="#000" stroke-width="0.25">10</text>
<text x="444.95" y="706.3" font-size="8.2" text-anchor="start" textLength="4.2" lengthAdjust="spacingAndGlyphs" fill="#000" stroke="#000" stroke-width="0.2">1</text>
<line x1="465.70" y1="696.3" x2="465.70" y2="700.70" stroke="#000" stroke-width="1.1"/>
<line x1="472.70" y1="696.3" x2="472.70" y2="699.20" stroke="#000" stroke-width="1.0"/>
<line x1="476.79" y1="696.3" x2="476.79" y2="699.20" stroke="#000" stroke-width="1.0"/>
<line x1="479.70" y1="696.3" x2="479.70" y2="699.20" stroke="#000" stroke-width="1.0"/>
<line x1="481.95" y1="696.3" x2="481.95" y2="699.20" stroke="#000" stroke-width="1.0"/>
<line x1="483.79" y1="696.3" x2="483.79" y2="699.20" stroke="#000" stroke-width="1.0"/>
<line x1="485.35" y1="696.3" x2="485.35" y2="699.20" stroke="#000" stroke-width="1.0"/>
<line x1="486.70" y1="696.3" x2="486.70" y2="699.20" stroke="#000" stroke-width="1.0"/>
<line x1="487.89" y1="696.3" x2="487.89" y2="699.20" stroke="#000" stroke-width="1.0"/>
<text x="458.8" y="711.7" font-size="9.5" text-anchor="start" textLength="8.8" lengthAdjust="spacingAndGlyphs" fill="#000" stroke="#000" stroke-width="0.25">10</text>
<text x="468.2" y="706.3" font-size="8.2" text-anchor="start" textLength="4.2" lengthAdjust="spacingAndGlyphs" fill="#000" stroke="#000" stroke-width="0.2">2</text>
<line x1="488.95" y1="696.3" x2="488.95" y2="700.70" stroke="#000" stroke-width="1.1"/>
<line x1="495.95" y1="696.3" x2="495.95" y2="699.20" stroke="#000" stroke-width="1.0"/>
<line x1="500.04" y1="696.3" x2="500.04" y2="699.20" stroke="#000" stroke-width="1.0"/>
<line x1="502.95" y1="696.3" x2="502.95" y2="699.20" stroke="#000" stroke-width="1.0"/>
<line x1="505.20" y1="696.3" x2="505.20" y2="699.20" stroke="#000" stroke-width="1.0"/>
<line x1="507.04" y1="696.3" x2="507.04" y2="699.20" stroke="#000" stroke-width="1.0"/>
<line x1="508.60" y1="696.3" x2="508.60" y2="699.20" stroke="#000" stroke-width="1.0"/>
<line x1="509.95" y1="696.3" x2="509.95" y2="699.20" stroke="#000" stroke-width="1.0"/>
<line x1="511.14" y1="696.3" x2="511.14" y2="699.20" stroke="#000" stroke-width="1.0"/>
<text x="482.05" y="711.7" font-size="9.5" text-anchor="start" textLength="8.8" lengthAdjust="spacingAndGlyphs" fill="#000" stroke="#000" stroke-width="0.25">10</text>
<text x="491.45" y="706.3" font-size="8.2" text-anchor="start" textLength="4.2" lengthAdjust="spacingAndGlyphs" fill="#000" stroke="#000" stroke-width="0.2">3</text>
<line x1="512.20" y1="696.3" x2="512.20" y2="700.70" stroke="#000" stroke-width="1.1"/>
<text x="505.3" y="711.7" font-size="9.5" text-anchor="start" textLength="8.8" lengthAdjust="spacingAndGlyphs" fill="#000" stroke="#000" stroke-width="0.25">10</text>
<text x="514.7" y="706.3" font-size="8.2" text-anchor="start" textLength="4.2" lengthAdjust="spacingAndGlyphs" fill="#000" stroke="#000" stroke-width="0.2">4</text>
<line x1="462.0" y1="694.90" x2="510.6" y2="694.90" stroke="#aaa" stroke-width="0.9" stroke-dasharray="1.6,1.8"/>
<polyline points="420.80,689.60 424.20,686.20 427.70,678.10 431.20,670.00 433.50,664.20 435.80,659.60 437.50,657.30 439.20,660.80 441.00,667.70 442.70,674.60 443.80,683.80 445.00,689.60 446.00,693.00" fill="none" stroke="#111" stroke-width="1.45" stroke-dasharray="1.5,2.2"/>
<polyline points="421.30,694.20 425.40,693.70 429.40,692.50 432.90,690.80 435.80,686.70 438.10,682.70 439.80,679.20 441.50,673.50 443.30,668.80 445.00,664.80 448.50,661.30 450.80,666.50 453.10,671.20 455.40,679.20 457.70,686.20 459.40,691.90 462.00,694.00" fill="none" stroke="#111" stroke-width="1.15"/>
<path d="M446.3,684.4 V697.3" stroke="#000" stroke-width="2"/>
<path d="M511.6,684.4 V697.3" stroke="#000" stroke-width="1.8"/>
<line x1="446.3" y1="693.0" x2="511.6" y2="693.0" stroke="#000" stroke-width="1.8"/>
<text x="480.2" y="690.7" font-size="8.9" text-anchor="start" textLength="11.2" lengthAdjust="spacingAndGlyphs" fill="#000" >M1</text>
<text x="482.09999999999997" y="639.5" font-size="12.3" font-weight="bold" text-anchor="start" textLength="25.7" lengthAdjust="spacingAndGlyphs" fill="#000" >56%</text>
<text transform="translate(410.6,619.3) rotate(-90)" font-size="9.8" text-anchor="middle" textLength="13.8" lengthAdjust="spacingAndGlyphs" fill="#000" stroke="#000" stroke-width="0.3">150</text>
<text transform="translate(410.6,695.1) rotate(-90)" font-size="9.8" text-anchor="middle" textLength="5.0" lengthAdjust="spacingAndGlyphs" fill="#000" stroke="#000" stroke-width="0.3">0</text>
<text x="447.2" y="724.1" font-size="11.7" font-weight="bold" text-anchor="start" textLength="38.8" lengthAdjust="spacingAndGlyphs" fill="#000" >IL-21R</text>
<text x="-0.6" y="548.5" font-size="13" font-weight="bold" text-anchor="start" textLength="20" lengthAdjust="spacingAndGlyphs" fill="#000" >N.4</text>
<text x="0.6" y="659.7" font-size="13" font-weight="bold" text-anchor="start" textLength="27.4" lengthAdjust="spacingAndGlyphs" fill="#000" >N.12</text>
</svg>
</body></html>
